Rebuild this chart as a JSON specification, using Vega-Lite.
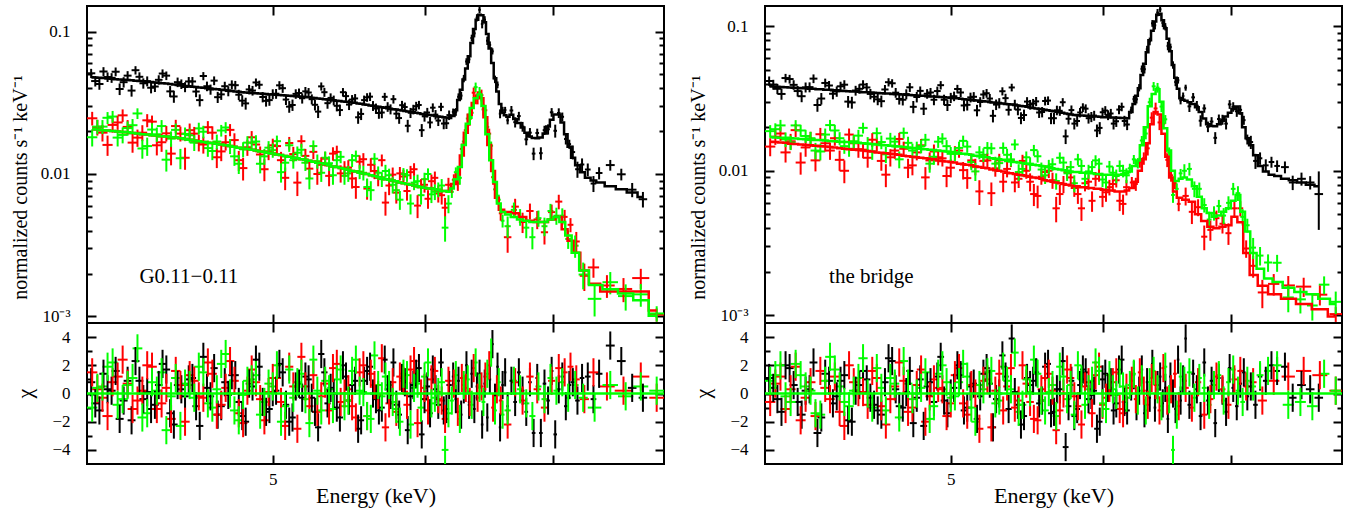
{
"$schema":"https://vega.github.io/schema/vega-lite/v6.json",
"background":"white",
"padding":{"left":9,"top":4,"right":5,"bottom":5},
"config":{"font":"Liberation Serif","view":{"stroke":"#000000","strokeWidth":2},
"axis":{"domain":false,"grid":false,"tickColor":"#000000","tickWidth":2,"labelColor":"#000000","labelFont":"Liberation Serif","labelFontSize":17,"titleFont":"Liberation Serif","titleFontSize":20,"titleFontWeight":"normal","titleColor":"#000000"}},
"datasets":{
"L":[
{"s":"k","e":4.02,"w":0.02,"m":0.0478,"y":0.0509,"d":0.0038,"c":0.8},
{"s":"k","e":4.06,"w":0.02,"m":0.0473,"y":0.0428,"d":0.0038,"c":-1.2},
{"s":"k","e":4.10,"w":0.02,"m":0.0468,"y":0.0479,"d":0.0037,"c":0.3},
{"s":"k","e":4.14,"w":0.02,"m":0.0463,"y":0.0522,"d":0.0037,"c":1.6},
{"s":"k","e":4.18,"w":0.02,"m":0.0459,"y":0.0441,"d":0.0037,"c":-0.5},
{"s":"k","e":4.22,"w":0.02,"m":0.0454,"y":0.0385,"d":0.0036,"c":-1.9},
{"s":"k","e":4.26,"w":0.02,"m":0.0449,"y":0.0481,"d":0.0036,"c":0.9},
{"s":"k","e":4.30,"w":0.02,"m":0.0444,"y":0.0448,"d":0.0036,"c":0.1},
{"s":"k","e":4.34,"w":0.02,"m":0.0439,"y":0.0411,"d":0.0035,"c":-0.8},
{"s":"k","e":4.38,"w":0.02,"m":0.0434,"y":0.0507,"d":0.0035,"c":2.1},
{"s":"k","e":4.42,"w":0.02,"m":0.0428,"y":0.0380,"d":0.0034,"c":-1.4},
{"s":"k","e":4.46,"w":0.02,"m":0.0421,"y":0.0441,"d":0.0034,"c":0.6},
{"s":"k","e":4.50,"w":0.02,"m":0.0415,"y":0.0408,"d":0.0033,"c":-0.2},
{"s":"k","e":4.54,"w":0.02,"m":0.0410,"y":0.0446,"d":0.0033,"c":1.1},
{"s":"k","e":4.58,"w":0.02,"m":0.0405,"y":0.0330,"d":0.0032,"c":-2.3},
{"s":"k","e":4.62,"w":0.02,"m":0.0400,"y":0.0413,"d":0.0032,"c":0.4},
{"s":"k","e":4.66,"w":0.02,"m":0.0395,"y":0.0452,"d":0.0032,"c":1.8},
{"s":"k","e":4.70,"w":0.02,"m":0.0390,"y":0.0362,"d":0.0031,"c":-0.9},
{"s":"k","e":4.74,"w":0.02,"m":0.0385,"y":0.0382,"d":0.0031,"c":-0.1},
{"s":"k","e":4.78,"w":0.02,"m":0.0380,"y":0.0420,"d":0.0030,"c":1.3},
{"s":"k","e":4.82,"w":0.02,"m":0.0375,"y":0.0327,"d":0.0030,"c":-1.6},
{"s":"k","e":4.86,"w":0.02,"m":0.0371,"y":0.0392,"d":0.0030,"c":0.7},
{"s":"k","e":4.90,"w":0.02,"m":0.0368,"y":0.0439,"d":0.0029,"c":2.4},
{"s":"k","e":4.94,"w":0.02,"m":0.0365,"y":0.0347,"d":0.0029,"c":-0.6},
{"s":"k","e":4.98,"w":0.02,"m":0.0362,"y":0.0330,"d":0.0029,"c":-1.1},
{"s":"k","e":5.02,"w":0.02,"m":0.0360,"y":0.0366,"d":0.0029,"c":0.2},
{"s":"k","e":5.06,"w":0.02,"m":0.0357,"y":0.0400,"d":0.0029,"c":1.5},
{"s":"k","e":5.10,"w":0.02,"m":0.0354,"y":0.0297,"d":0.0028,"c":-2.0},
{"s":"k","e":5.14,"w":0.02,"m":0.0351,"y":0.0365,"d":0.0028,"c":0.5},
{"s":"k","e":5.18,"w":0.02,"m":0.0348,"y":0.0340,"d":0.0028,"c":-0.3},
{"s":"k","e":5.22,"w":0.02,"m":0.0345,"y":0.0373,"d":0.0028,"c":1.0},
{"s":"k","e":5.26,"w":0.02,"m":0.0341,"y":0.0306,"d":0.0027,"c":-1.3},
{"s":"k","e":5.30,"w":0.02,"m":0.0337,"y":0.0412,"d":0.0027,"c":2.8},
{"s":"k","e":5.34,"w":0.02,"m":0.0333,"y":0.0314,"d":0.0027,"c":-0.7},
{"s":"k","e":5.38,"w":0.02,"m":0.0329,"y":0.0329,"d":0.0026,"c":0.0},
{"s":"k","e":5.42,"w":0.02,"m":0.0325,"y":0.0281,"d":0.0026,"c":-1.7},
{"s":"k","e":5.46,"w":0.02,"m":0.0321,"y":0.0352,"d":0.0026,"c":1.2},
{"s":"k","e":5.50,"w":0.02,"m":0.0318,"y":0.0333,"d":0.0025,"c":0.6},
{"s":"k","e":5.54,"w":0.02,"m":0.0313,"y":0.0250,"d":0.0025,"c":-2.5},
{"s":"k","e":5.58,"w":0.02,"m":0.0308,"y":0.0330,"d":0.0025,"c":0.9},
{"s":"k","e":5.62,"w":0.02,"m":0.0303,"y":0.0349,"d":0.0024,"c":1.9},
{"s":"k","e":5.66,"w":0.02,"m":0.0298,"y":0.0288,"d":0.0024,"c":-0.4},
{"s":"k","e":5.70,"w":0.02,"m":0.0294,"y":0.0270,"d":0.0024,"c":-1.0},
{"s":"k","e":5.74,"w":0.02,"m":0.0289,"y":0.0296,"d":0.0023,"c":0.3},
{"s":"k","e":5.78,"w":0.02,"m":0.0285,"y":0.0335,"d":0.0023,"c":2.2},
{"s":"k","e":5.82,"w":0.02,"m":0.0281,"y":0.0247,"d":0.0022,"c":-1.5},
{"s":"k","e":5.86,"w":0.02,"m":0.0277,"y":0.0295,"d":0.0022,"c":0.8},
{"s":"k","e":5.90,"w":0.02,"m":0.0273,"y":0.0269,"d":0.0022,"c":-0.2},
{"s":"k","e":5.94,"w":0.02,"m":0.0269,"y":0.0299,"d":0.0022,"c":1.4},
{"s":"k","e":5.98,"w":0.02,"m":0.0264,"y":0.0203,"d":0.0021,"c":-2.9},
{"s":"k","e":6.02,"w":0.02,"m":0.0260,"y":0.0270,"d":0.0021,"c":0.5},
{"s":"k","e":6.06,"w":0.02,"m":0.0257,"y":0.0292,"d":0.0021,"c":1.7},
{"s":"k","e":6.10,"w":0.02,"m":0.0253,"y":0.0237,"d":0.0020,"c":-0.8},
{"s":"k","e":6.14,"w":0.02,"m":0.0250,"y":0.0226,"d":0.0020,"c":-1.2},
{"s":"k","e":6.18,"w":0.02,"m":0.0247,"y":0.0259,"d":0.0020,"c":0.6},
{"s":"k","e":4.04,"w":0.02,"m":0.0476,"y":0.0449,"d":0.0038,"c":-0.7},
{"s":"k","e":4.08,"w":0.02,"m":0.0471,"y":0.0524,"d":0.0038,"c":1.4},
{"s":"k","e":4.12,"w":0.02,"m":0.0466,"y":0.0473,"d":0.0037,"c":0.2},
{"s":"k","e":4.16,"w":0.02,"m":0.0461,"y":0.0395,"d":0.0037,"c":-1.8},
{"s":"k","e":4.20,"w":0.02,"m":0.0457,"y":0.0490,"d":0.0037,"c":0.9},
{"s":"k","e":4.24,"w":0.02,"m":0.0452,"y":0.0535,"d":0.0036,"c":2.3},
{"s":"k","e":4.28,"w":0.02,"m":0.0447,"y":0.0433,"d":0.0036,"c":-0.4},
{"s":"k","e":4.32,"w":0.02,"m":0.0442,"y":0.0403,"d":0.0035,"c":-1.1},
{"s":"k","e":4.36,"w":0.02,"m":0.0437,"y":0.0458,"d":0.0035,"c":0.6},
{"s":"k","e":4.40,"w":0.02,"m":0.0431,"y":0.0490,"d":0.0034,"c":1.7},
{"s":"k","e":4.44,"w":0.02,"m":0.0425,"y":0.0350,"d":0.0034,"c":-2.2},
{"s":"k","e":4.48,"w":0.02,"m":0.0418,"y":0.0428,"d":0.0033,"c":0.3},
{"s":"k","e":4.52,"w":0.02,"m":0.0413,"y":0.0446,"d":0.0033,"c":1.0},
{"s":"k","e":4.56,"w":0.02,"m":0.0408,"y":0.0379,"d":0.0033,"c":-0.9},
{"s":"k","e":4.60,"w":0.02,"m":0.0403,"y":0.0487,"d":0.0032,"c":2.6},
{"s":"k","e":4.64,"w":0.02,"m":0.0398,"y":0.0392,"d":0.0032,"c":-0.2},
{"s":"k","e":4.68,"w":0.02,"m":0.0393,"y":0.0346,"d":0.0031,"c":-1.5},
{"s":"k","e":4.72,"w":0.02,"m":0.0388,"y":0.0413,"d":0.0031,"c":0.8},
{"s":"k","e":4.76,"w":0.02,"m":0.0383,"y":0.0423,"d":0.0031,"c":1.3},
{"s":"k","e":4.80,"w":0.02,"m":0.0378,"y":0.0360,"d":0.0030,"c":-0.6},
{"s":"k","e":4.84,"w":0.02,"m":0.0373,"y":0.0313,"d":0.0030,"c":-2.0},
{"s":"k","e":4.88,"w":0.02,"m":0.0370,"y":0.0385,"d":0.0030,"c":0.5},
{"s":"k","e":4.92,"w":0.02,"m":0.0367,"y":0.0423,"d":0.0029,"c":1.9},
{"s":"k","e":4.96,"w":0.02,"m":0.0364,"y":0.0326,"d":0.0029,"c":-1.3},
{"s":"k","e":5.00,"w":0.02,"m":0.0361,"y":0.0364,"d":0.0029,"c":0.1},
{"s":"k","e":5.04,"w":0.02,"m":0.0359,"y":0.0419,"d":0.0029,"c":2.1},
{"s":"k","e":5.08,"w":0.02,"m":0.0356,"y":0.0333,"d":0.0028,"c":-0.8},
{"s":"k","e":5.12,"w":0.02,"m":0.0353,"y":0.0305,"d":0.0028,"c":-1.7},
{"s":"k","e":5.16,"w":0.02,"m":0.0350,"y":0.0370,"d":0.0028,"c":0.7},
{"s":"k","e":5.20,"w":0.02,"m":0.0347,"y":0.0380,"d":0.0028,"c":1.2},
{"s":"k","e":5.24,"w":0.02,"m":0.0343,"y":0.0335,"d":0.0027,"c":-0.3},
{"s":"k","e":5.28,"w":0.02,"m":0.0339,"y":0.0274,"d":0.0027,"c":-2.4},
{"s":"k","e":5.32,"w":0.02,"m":0.0335,"y":0.0375,"d":0.0027,"c":1.5},
{"s":"k","e":5.36,"w":0.02,"m":0.0331,"y":0.0342,"d":0.0026,"c":0.4},
{"s":"k","e":5.40,"w":0.02,"m":0.0327,"y":0.0301,"d":0.0026,"c":-1.0},
{"s":"k","e":5.44,"w":0.02,"m":0.0323,"y":0.0375,"d":0.0026,"c":2.0},
{"s":"k","e":5.48,"w":0.02,"m":0.0320,"y":0.0307,"d":0.0026,"c":-0.5},
{"s":"k","e":5.52,"w":0.02,"m":0.0316,"y":0.0339,"d":0.0025,"c":0.9},
{"s":"k","e":5.56,"w":0.02,"m":0.0311,"y":0.0264,"d":0.0025,"c":-1.9},
{"s":"k","e":5.60,"w":0.02,"m":0.0306,"y":0.0345,"d":0.0024,"c":1.6},
{"s":"k","e":5.64,"w":0.02,"m":0.0301,"y":0.0301,"d":0.0024,"c":0.0},
{"s":"k","e":5.68,"w":0.02,"m":0.0296,"y":0.0268,"d":0.0024,"c":-1.2},
{"s":"k","e":5.72,"w":0.02,"m":0.0292,"y":0.0348,"d":0.0023,"c":2.4},
{"s":"k","e":5.76,"w":0.02,"m":0.0287,"y":0.0285,"d":0.0023,"c":-0.1},
{"s":"k","e":5.80,"w":0.02,"m":0.0283,"y":0.0265,"d":0.0023,"c":-0.8},
{"s":"k","e":5.84,"w":0.02,"m":0.0279,"y":0.0304,"d":0.0022,"c":1.1},
{"s":"k","e":5.88,"w":0.02,"m":0.0275,"y":0.0218,"d":0.0022,"c":-2.6},
{"s":"k","e":5.92,"w":0.02,"m":0.0271,"y":0.0284,"d":0.0022,"c":0.6},
{"s":"k","e":5.96,"w":0.02,"m":0.0267,"y":0.0305,"d":0.0021,"c":1.8},
{"s":"k","e":6.00,"w":0.02,"m":0.0262,"y":0.0254,"d":0.0021,"c":-0.4},
{"s":"k","e":6.04,"w":0.02,"m":0.0259,"y":0.0230,"d":0.0021,"c":-1.4},
{"s":"k","e":6.08,"w":0.02,"m":0.0255,"y":0.0261,"d":0.0020,"c":0.3},
{"s":"k","e":6.12,"w":0.02,"m":0.0252,"y":0.0296,"d":0.0020,"c":2.2},
{"s":"k","e":6.16,"w":0.02,"m":0.0249,"y":0.0227,"d":0.0020,"c":-1.1},
{"s":"k","e":6.21,"w":0.01,"m":0.0255,"y":0.0273,"d":0.0015,"c":1.2},
{"s":"k","e":6.23,"w":0.01,"m":0.028,"y":0.0273,"d":0.0017,"c":-0.4},
{"s":"k","e":6.25,"w":0.01,"m":0.033,"y":0.0348,"d":0.0020,"c":0.9},
{"s":"k","e":6.27,"w":0.01,"m":0.039,"y":0.0355,"d":0.0023,"c":-1.5},
{"s":"k","e":6.29,"w":0.01,"m":0.046,"y":0.0468,"d":0.0028,"c":0.3},
{"s":"k","e":6.31,"w":0.01,"m":0.055,"y":0.0616,"d":0.0033,"c":2.0},
{"s":"k","e":6.33,"w":0.01,"m":0.067,"y":0.0638,"d":0.0040,"c":-0.8},
{"s":"k","e":6.35,"w":0.01,"m":0.083,"y":0.0900,"d":0.0050,"c":1.4},
{"s":"k","e":6.37,"w":0.01,"m":0.104,"y":0.0971,"d":0.0062,"c":-1.1},
{"s":"k","e":6.39,"w":0.01,"m":0.121,"y":0.125,"d":0.0073,"c":0.5},
{"s":"k","e":6.41,"w":0.01,"m":0.131,"y":0.142,"d":0.0079,"c":1.4},
{"s":"k","e":6.43,"w":0.01,"m":0.130,"y":0.113,"d":0.0078,"c":-2.2},
{"s":"k","e":6.45,"w":0.01,"m":0.116,"y":0.121,"d":0.0070,"c":0.7},
{"s":"k","e":6.47,"w":0.01,"m":0.096,"y":0.0862,"d":0.0058,"c":-1.7},
{"s":"k","e":6.49,"w":0.01,"m":0.076,"y":0.0806,"d":0.0046,"c":1.0},
{"s":"k","e":6.51,"w":0.01,"m":0.060,"y":0.0726,"d":0.0036,"c":3.5},
{"s":"k","e":6.53,"w":0.01,"m":0.047,"y":0.0462,"d":0.0028,"c":-0.3},
{"s":"k","e":6.55,"w":0.01,"m":0.038,"y":0.0423,"d":0.0023,"c":1.9},
{"s":"k","e":6.57,"w":0.01,"m":0.031,"y":0.0265,"d":0.0019,"c":-2.4},
{"s":"k","e":6.59,"w":0.01,"m":0.027,"y":0.0280,"d":0.0016,"c":0.6},
{"s":"k","e":6.61,"w":0.01,"m":0.0258,"y":0.0281,"d":0.0015,"c":1.5},
{"s":"k","e":6.63,"w":0.01,"m":0.0252,"y":0.0238,"d":0.0015,"c":-0.9},
{"s":"k","e":6.66,"w":0.015,"m":0.026,"y":0.0279,"d":0.0021,"c":0.9},
{"s":"k","e":6.69,"w":0.015,"m":0.0243,"y":0.0231,"d":0.0019,"c":-0.6},
{"s":"k","e":6.72,"w":0.015,"m":0.0228,"y":0.0255,"d":0.0018,"c":1.5},
{"s":"k","e":6.75,"w":0.015,"m":0.0212,"y":0.0215,"d":0.0017,"c":0.2},
{"s":"k","e":6.78,"w":0.015,"m":0.0195,"y":0.0175,"d":0.0016,"c":-1.3},
{"s":"k","e":6.81,"w":0.015,"m":0.0183,"y":0.0195,"d":0.0015,"c":0.8},
{"s":"k","e":6.84,"w":0.015,"m":0.0179,"y":0.0139,"d":0.0014,"c":-2.8},
{"s":"k","e":6.87,"w":0.015,"m":0.0178,"y":0.0194,"d":0.0014,"c":1.1},
{"s":"k","e":6.90,"w":0.015,"m":0.018,"y":0.0140,"d":0.0014,"c":-2.8},
{"s":"k","e":6.93,"w":0.015,"m":0.0192,"y":0.0203,"d":0.0015,"c":0.7},
{"s":"k","e":6.96,"w":0.015,"m":0.0215,"y":0.0206,"d":0.0017,"c":-0.5},
{"s":"k","e":6.99,"w":0.015,"m":0.0240,"y":0.0271,"d":0.0019,"c":1.6},
{"s":"k","e":7.02,"w":0.015,"m":0.0262,"y":0.0201,"d":0.0021,"c":-2.9},
{"s":"k","e":7.05,"w":0.015,"m":0.0262,"y":0.0268,"d":0.0021,"c":0.3},
{"s":"k","e":7.08,"w":0.015,"m":0.0230,"y":0.0252,"d":0.0018,"c":1.2},
{"s":"k","e":7.11,"w":0.015,"m":0.0190,"y":0.0176,"d":0.0015,"c":-0.9},
{"s":"k","e":7.14,"w":0.015,"m":0.0155,"y":0.0162,"d":0.0012,"c":0.6},
{"s":"k","e":7.17,"w":0.02,"m":0.0130,"y":0.01425,"d":0.0016,"c":0.8},
{"s":"k","e":7.21,"w":0.02,"m":0.0115,"y":0.0108,"d":0.0014,"c":-0.5},
{"s":"k","e":7.25,"w":0.02,"m":0.0103,"y":0.01166,"d":0.0012,"c":1.1},
{"s":"k","e":7.30,"w":0.025,"m":0.0094,"y":0.01075,"d":0.0011,"c":1.2},
{"s":"k","e":7.35,"w":0.025,"m":0.0090,"y":0.00857,"d":0.0011,"c":-0.4},
{"s":"k","e":7.40,"w":0.03,"m":0.0087,"y":0.01016,"d":0.0010,"c":1.4},
{"s":"k","e":7.50,"w":0.04,"m":0.0082,"y":0.01155,"d":0.0010,"c":3.4},
{"s":"k","e":7.60,"w":0.04,"m":0.0078,"y":0.00995,"d":0.00094,"c":2.3},
{"s":"k","e":7.70,"w":0.04,"m":0.0074,"y":0.00776,"d":0.00089,"c":0.4},
{"s":"k","e":7.80,"w":0.04,"m":0.0069,"y":0.00665,"d":0.00083,"c":-0.3},
{"s":"r","e":4.025,"w":0.025,"m":0.0206,"y":0.0246,"d":0.0027,"c":1.5},
{"s":"r","e":4.075,"w":0.025,"m":0.0203,"y":0.0195,"d":0.0026,"c":-0.3},
{"s":"r","e":4.125,"w":0.025,"m":0.0200,"y":0.0221,"d":0.0026,"c":0.8},
{"s":"r","e":4.175,"w":0.025,"m":0.0197,"y":0.0258,"d":0.0026,"c":2.4},
{"s":"r","e":4.225,"w":0.025,"m":0.0194,"y":0.0166,"d":0.0025,"c":-1.1},
{"s":"r","e":4.275,"w":0.025,"m":0.0190,"y":0.0195,"d":0.0025,"c":0.2},
{"s":"r","e":4.325,"w":0.025,"m":0.0187,"y":0.0233,"d":0.0024,"c":1.9},
{"s":"r","e":4.375,"w":0.025,"m":0.0184,"y":0.0167,"d":0.0024,"c":-0.7},
{"s":"r","e":4.425,"w":0.025,"m":0.0181,"y":0.0139,"d":0.0024,"c":-1.8},
{"s":"r","e":4.475,"w":0.025,"m":0.0178,"y":0.0192,"d":0.0023,"c":0.6},
{"s":"r","e":4.525,"w":0.025,"m":0.0174,"y":0.0203,"d":0.0023,"c":1.3},
{"s":"r","e":4.575,"w":0.025,"m":0.0170,"y":0.0166,"d":0.0022,"c":-0.2},
{"s":"r","e":4.625,"w":0.025,"m":0.0166,"y":0.0213,"d":0.0022,"c":2.2},
{"s":"r","e":4.675,"w":0.025,"m":0.0163,"y":0.0131,"d":0.0021,"c":-1.5},
{"s":"r","e":4.725,"w":0.025,"m":0.0159,"y":0.0167,"d":0.0021,"c":0.4},
{"s":"r","e":4.775,"w":0.025,"m":0.0155,"y":0.0173,"d":0.0020,"c":0.9},
{"s":"r","e":4.825,"w":0.025,"m":0.0151,"y":0.0110,"d":0.0020,"c":-2.1},
{"s":"r","e":4.875,"w":0.025,"m":0.0148,"y":0.0181,"d":0.0019,"c":1.7},
{"s":"r","e":4.925,"w":0.025,"m":0.0144,"y":0.0137,"d":0.0019,"c":-0.4},
{"s":"r","e":4.975,"w":0.025,"m":0.0141,"y":0.0143,"d":0.0018,"c":0.1},
{"s":"r","e":5.025,"w":0.025,"m":0.0137,"y":0.0157,"d":0.0018,"c":1.1},
{"s":"r","e":5.075,"w":0.025,"m":0.0134,"y":0.0094,"d":0.0017,"c":-2.3},
{"s":"r","e":5.125,"w":0.025,"m":0.0130,"y":0.0138,"d":0.0017,"c":0.5},
{"s":"r","e":5.175,"w":0.025,"m":0.0127,"y":0.0170,"d":0.0017,"c":2.6},
{"s":"r","e":5.225,"w":0.025,"m":0.0124,"y":0.0109,"d":0.0016,"c":-0.9},
{"s":"r","e":5.275,"w":0.025,"m":0.0120,"y":0.0100,"d":0.0016,"c":-1.3},
{"s":"r","e":5.325,"w":0.025,"m":0.0117,"y":0.0128,"d":0.0015,"c":0.7},
{"s":"r","e":5.375,"w":0.025,"m":0.0113,"y":0.0139,"d":0.0015,"c":1.8},
{"s":"r","e":5.425,"w":0.025,"m":0.0110,"y":0.0101,"d":0.0014,"c":-0.6},
{"s":"r","e":5.475,"w":0.025,"m":0.0107,"y":0.0111,"d":0.0014,"c":0.3},
{"s":"r","e":5.525,"w":0.025,"m":0.0104,"y":0.0081,"d":0.0014,"c":-1.7},
{"s":"r","e":5.575,"w":0.025,"m":0.0101,"y":0.0127,"d":0.0013,"c":2.0},
{"s":"r","e":5.625,"w":0.025,"m":0.0098,"y":0.0116,"d":0.0013,"c":1.4},
{"s":"r","e":5.675,"w":0.025,"m":0.0095,"y":0.0094,"d":0.0012,"c":-0.1},
{"s":"r","e":5.725,"w":0.025,"m":0.0092,"y":0.0063,"d":0.0012,"c":-2.4},
{"s":"r","e":5.775,"w":0.025,"m":0.0090,"y":0.0099,"d":0.0012,"c":0.8},
{"s":"r","e":5.825,"w":0.025,"m":0.0087,"y":0.0101,"d":0.0011,"c":1.2},
{"s":"r","e":5.875,"w":0.025,"m":0.0085,"y":0.0076,"d":0.0011,"c":-0.8},
{"s":"r","e":5.925,"w":0.025,"m":0.0083,"y":0.0108,"d":0.0011,"c":2.3},
{"s":"r","e":5.975,"w":0.025,"m":0.0081,"y":0.0081,"d":0.0011,"c":0.0},
{"s":"r","e":6.025,"w":0.025,"m":0.0079,"y":0.0067,"d":0.0010,"c":-1.2},
{"s":"r","e":6.075,"w":0.025,"m":0.0078,"y":0.0094,"d":0.0010,"c":1.6},
{"s":"r","e":6.125,"w":0.025,"m":0.0076,"y":0.0071,"d":0.0010,"c":-0.5},
{"s":"r","e":6.175,"w":0.025,"m":0.0075,"y":0.0084,"d":0.0010,"c":0.9},
{"s":"r","e":4.05,"w":0.025,"m":0.0205,"y":0.0213,"d":0.0027,"c":0.3},
{"s":"r","e":4.10,"w":0.025,"m":0.0202,"y":0.0160,"d":0.0026,"c":-1.6},
{"s":"r","e":4.15,"w":0.025,"m":0.0199,"y":0.0230,"d":0.0026,"c":1.2},
{"s":"r","e":4.20,"w":0.025,"m":0.0196,"y":0.0214,"d":0.0025,"c":0.7},
{"s":"r","e":4.25,"w":0.025,"m":0.0192,"y":0.0180,"d":0.0025,"c":-0.5},
{"s":"r","e":4.30,"w":0.025,"m":0.0189,"y":0.0238,"d":0.0025,"c":2.0},
{"s":"r","e":4.35,"w":0.025,"m":0.0186,"y":0.0159,"d":0.0024,"c":-1.1},
{"s":"r","e":4.40,"w":0.025,"m":0.0183,"y":0.0193,"d":0.0024,"c":0.4},
{"s":"r","e":4.45,"w":0.025,"m":0.0180,"y":0.0217,"d":0.0023,"c":1.6},
{"s":"r","e":4.50,"w":0.025,"m":0.0176,"y":0.0130,"d":0.0023,"c":-2.0},
{"s":"r","e":4.55,"w":0.025,"m":0.0172,"y":0.0192,"d":0.0022,"c":0.9},
{"s":"r","e":4.60,"w":0.025,"m":0.0168,"y":0.0161,"d":0.0022,"c":-0.3},
{"s":"r","e":4.65,"w":0.025,"m":0.0165,"y":0.0195,"d":0.0021,"c":1.4},
{"s":"r","e":4.70,"w":0.025,"m":0.0161,"y":0.0144,"d":0.0021,"c":-0.8},
{"s":"r","e":4.75,"w":0.025,"m":0.0157,"y":0.0204,"d":0.0020,"c":2.3},
{"s":"r","e":4.80,"w":0.025,"m":0.0153,"y":0.0125,"d":0.0020,"c":-1.4},
{"s":"r","e":4.85,"w":0.025,"m":0.0150,"y":0.0154,"d":0.0020,"c":0.2},
{"s":"r","e":4.90,"w":0.025,"m":0.0146,"y":0.0161,"d":0.0019,"c":0.8},
{"s":"r","e":4.95,"w":0.025,"m":0.0143,"y":0.0108,"d":0.0019,"c":-1.9},
{"s":"r","e":5.00,"w":0.025,"m":0.0139,"y":0.0159,"d":0.0018,"c":1.1},
{"s":"r","e":5.05,"w":0.025,"m":0.0136,"y":0.0125,"d":0.0018,"c":-0.6},
{"s":"r","e":5.10,"w":0.025,"m":0.0132,"y":0.0165,"d":0.0017,"c":1.9},
{"s":"r","e":5.15,"w":0.025,"m":0.0129,"y":0.0087,"d":0.0017,"c":-2.5},
{"s":"r","e":5.20,"w":0.025,"m":0.0126,"y":0.0134,"d":0.0016,"c":0.5},
{"s":"r","e":5.25,"w":0.025,"m":0.0122,"y":0.0143,"d":0.0016,"c":1.3},
{"s":"r","e":5.30,"w":0.025,"m":0.0119,"y":0.0116,"d":0.0015,"c":-0.2},
{"s":"r","e":5.35,"w":0.025,"m":0.0115,"y":0.0097,"d":0.0015,"c":-1.2},
{"s":"r","e":5.40,"w":0.025,"m":0.0112,"y":0.0143,"d":0.0015,"c":2.1},
{"s":"r","e":5.45,"w":0.025,"m":0.0109,"y":0.0109,"d":0.0014,"c":0.0},
{"s":"r","e":5.50,"w":0.025,"m":0.0105,"y":0.0093,"d":0.0014,"c":-0.9},
{"s":"r","e":5.55,"w":0.025,"m":0.0102,"y":0.0122,"d":0.0013,"c":1.5},
{"s":"r","e":5.60,"w":0.025,"m":0.0100,"y":0.0079,"d":0.0013,"c":-1.6},
{"s":"r","e":5.65,"w":0.025,"m":0.0097,"y":0.0105,"d":0.0013,"c":0.6},
{"s":"r","e":5.70,"w":0.025,"m":0.0094,"y":0.0125,"d":0.0012,"c":2.5},
{"s":"r","e":5.75,"w":0.025,"m":0.0091,"y":0.0083,"d":0.0012,"c":-0.7},
{"s":"r","e":5.80,"w":0.025,"m":0.0089,"y":0.0074,"d":0.0012,"c":-1.3},
{"s":"r","e":5.85,"w":0.025,"m":0.0086,"y":0.0096,"d":0.0011,"c":0.9},
{"s":"r","e":5.90,"w":0.025,"m":0.0084,"y":0.0103,"d":0.0011,"c":1.7},
{"s":"r","e":5.95,"w":0.025,"m":0.0082,"y":0.0060,"d":0.0011,"c":-2.1},
{"s":"r","e":6.00,"w":0.025,"m":0.0080,"y":0.0084,"d":0.0010,"c":0.4},
{"s":"r","e":6.05,"w":0.025,"m":0.0079,"y":0.0089,"d":0.0010,"c":1.0},
{"s":"r","e":6.10,"w":0.025,"m":0.0077,"y":0.0073,"d":0.0010,"c":-0.4},
{"s":"r","e":6.15,"w":0.025,"m":0.0076,"y":0.0058,"d":0.0010,"c":-1.8},
{"s":"r","e":6.215,"w":0.015,"m":0.0085,"y":0.0091,"d":0.00085,"c":0.7},
{"s":"r","e":6.245,"w":0.015,"m":0.0099,"y":0.0086,"d":0.00099,"c":-1.3},
{"s":"r","e":6.275,"w":0.015,"m":0.0135,"y":0.0150,"d":0.00135,"c":1.1},
{"s":"r","e":6.305,"w":0.015,"m":0.0195,"y":0.0203,"d":0.00195,"c":0.4},
{"s":"r","e":6.335,"w":0.015,"m":0.0260,"y":0.0244,"d":0.0026,"c":-0.6},
{"s":"r","e":6.365,"w":0.015,"m":0.0315,"y":0.0372,"d":0.0032,"c":1.8},
{"s":"r","e":6.395,"w":0.015,"m":0.0355,"y":0.0344,"d":0.0036,"c":-0.3},
{"s":"r","e":6.425,"w":0.015,"m":0.0340,"y":0.0357,"d":0.0034,"c":0.5},
{"s":"r","e":6.455,"w":0.015,"m":0.0250,"y":0.0280,"d":0.0025,"c":1.2},
{"s":"r","e":6.485,"w":0.015,"m":0.0160,"y":0.0192,"d":0.0016,"c":2.0},
{"s":"r","e":6.515,"w":0.015,"m":0.0105,"y":0.0095,"d":0.0011,"c":-1.0},
{"s":"r","e":6.545,"w":0.015,"m":0.0068,"y":0.0070,"d":0.0007,"c":0.3},
{"s":"r","e":6.575,"w":0.015,"m":0.0056,"y":0.0053,"d":0.0006,"c":-0.5},
{"s":"r","e":6.63,"w":0.03,"m":0.0054,"y":0.0036,"d":0.0008,"c":-2.2},
{"s":"r","e":6.69,"w":0.03,"m":0.0053,"y":0.0059,"d":0.0008,"c":0.8},
{"s":"r","e":6.75,"w":0.03,"m":0.0050,"y":0.0046,"d":0.00075,"c":-0.5},
{"s":"r","e":6.81,"w":0.03,"m":0.0047,"y":0.0055,"d":0.0007,"c":1.2},
{"s":"r","e":6.87,"w":0.03,"m":0.0046,"y":0.0048,"d":0.0007,"c":0.3},
{"s":"r","e":6.93,"w":0.03,"m":0.0046,"y":0.0039,"d":0.0007,"c":-1.0},
{"s":"r","e":6.99,"w":0.03,"m":0.0048,"y":0.0054,"d":0.0007,"c":0.9},
{"s":"r","e":7.05,"w":0.03,"m":0.0050,"y":0.0064,"d":0.00075,"c":1.8},
{"s":"r","e":7.10,"w":0.025,"m":0.0041,"y":0.0050,"d":0.0006,"c":1.5},
{"s":"r","e":7.15,"w":0.025,"m":0.0034,"y":0.0044,"d":0.0005,"c":1.9},
{"s":"r","e":7.20,"w":0.03,"m":0.0028,"y":0.00336,"d":0.00056,"c":1.0},
{"s":"r","e":7.27,"w":0.04,"m":0.0021,"y":0.00193,"d":0.00042,"c":-0.4},
{"s":"r","e":7.35,"w":0.05,"m":0.0017,"y":0.00221,"d":0.00034,"c":1.5},
{"s":"r","e":7.47,"w":0.07,"m":0.0015,"y":0.00165,"d":0.0003,"c":0.5},
{"s":"r","e":7.62,"w":0.08,"m":0.0015,"y":0.00156,"d":0.0003,"c":0.2},
{"s":"r","e":7.78,"w":0.08,"m":0.0015,"y":0.00186,"d":0.0003,"c":1.2},
{"s":"r","e":7.93,"w":0.07,"m":0.0011,"y":0.00103,"d":0.00011,"c":-0.3},
{"s":"g","e":4.05,"w":0.025,"m":0.0205,"y":0.0215,"d":0.0025,"c":0.4},
{"s":"g","e":4.10,"w":0.025,"m":0.0202,"y":0.0248,"d":0.0024,"c":1.9},
{"s":"g","e":4.15,"w":0.025,"m":0.0199,"y":0.0180,"d":0.0024,"c":-0.8},
{"s":"g","e":4.20,"w":0.025,"m":0.0196,"y":0.0210,"d":0.0024,"c":0.6},
{"s":"g","e":4.25,"w":0.025,"m":0.0192,"y":0.0266,"d":0.0023,"c":3.2},
{"s":"g","e":4.30,"w":0.025,"m":0.0189,"y":0.0157,"d":0.0023,"c":-1.4},
{"s":"g","e":4.35,"w":0.025,"m":0.0186,"y":0.0190,"d":0.0022,"c":0.2},
{"s":"g","e":4.40,"w":0.025,"m":0.0183,"y":0.0126,"d":0.0022,"c":-2.6},
{"s":"g","e":4.45,"w":0.025,"m":0.0180,"y":0.0204,"d":0.0022,"c":1.1},
{"s":"g","e":4.50,"w":0.025,"m":0.0176,"y":0.0191,"d":0.0021,"c":0.7},
{"s":"g","e":4.55,"w":0.025,"m":0.0172,"y":0.0166,"d":0.0021,"c":-0.3},
{"s":"g","e":4.60,"w":0.025,"m":0.0168,"y":0.0198,"d":0.0020,"c":1.5},
{"s":"g","e":4.65,"w":0.025,"m":0.0165,"y":0.0145,"d":0.0020,"c":-1.0},
{"s":"g","e":4.70,"w":0.025,"m":0.0161,"y":0.0202,"d":0.0019,"c":2.1},
{"s":"g","e":4.75,"w":0.025,"m":0.0157,"y":0.0157,"d":0.0019,"c":0.0},
{"s":"g","e":4.80,"w":0.025,"m":0.0153,"y":0.0118,"d":0.0018,"c":-1.9},
{"s":"g","e":4.85,"w":0.025,"m":0.0150,"y":0.0166,"d":0.0018,"c":0.9},
{"s":"g","e":4.90,"w":0.025,"m":0.0146,"y":0.0169,"d":0.0018,"c":1.3},
{"s":"g","e":4.95,"w":0.025,"m":0.0143,"y":0.0133,"d":0.0017,"c":-0.6},
{"s":"g","e":5.00,"w":0.025,"m":0.0139,"y":0.0147,"d":0.0017,"c":0.5},
{"s":"g","e":5.05,"w":0.025,"m":0.0136,"y":0.0103,"d":0.0016,"c":-2.0},
{"s":"g","e":5.10,"w":0.025,"m":0.0132,"y":0.0159,"d":0.0016,"c":1.7},
{"s":"g","e":5.15,"w":0.025,"m":0.0129,"y":0.0141,"d":0.0015,"c":0.8},
{"s":"g","e":5.20,"w":0.025,"m":0.0126,"y":0.0120,"d":0.0015,"c":-0.4},
{"s":"g","e":5.25,"w":0.025,"m":0.0122,"y":0.0157,"d":0.0015,"c":2.4},
{"s":"g","e":5.30,"w":0.025,"m":0.0119,"y":0.0102,"d":0.0014,"c":-1.2},
{"s":"g","e":5.35,"w":0.025,"m":0.0115,"y":0.0119,"d":0.0014,"c":0.3},
{"s":"g","e":5.40,"w":0.025,"m":0.0112,"y":0.0125,"d":0.0013,"c":1.0},
{"s":"g","e":5.45,"w":0.025,"m":0.0109,"y":0.0097,"d":0.0013,"c":-0.9},
{"s":"g","e":5.50,"w":0.025,"m":0.0105,"y":0.0125,"d":0.0013,"c":1.6},
{"s":"g","e":5.55,"w":0.025,"m":0.0102,"y":0.0104,"d":0.0012,"c":0.2},
{"s":"g","e":5.60,"w":0.025,"m":0.0100,"y":0.0081,"d":0.0012,"c":-1.6},
{"s":"g","e":5.65,"w":0.025,"m":0.0097,"y":0.0128,"d":0.0012,"c":2.7},
{"s":"g","e":5.70,"w":0.025,"m":0.0094,"y":0.0092,"d":0.0011,"c":-0.2},
{"s":"g","e":5.75,"w":0.025,"m":0.0091,"y":0.0098,"d":0.0011,"c":0.6},
{"s":"g","e":5.80,"w":0.025,"m":0.0089,"y":0.0077,"d":0.0011,"c":-1.1},
{"s":"g","e":5.85,"w":0.025,"m":0.0086,"y":0.0100,"d":0.0010,"c":1.4},
{"s":"g","e":5.90,"w":0.025,"m":0.0084,"y":0.0062,"d":0.0010,"c":-2.2},
{"s":"g","e":5.95,"w":0.025,"m":0.0082,"y":0.0089,"d":0.0010,"c":0.7},
{"s":"g","e":6.00,"w":0.025,"m":0.0080,"y":0.0092,"d":0.0010,"c":1.2},
{"s":"g","e":6.05,"w":0.025,"m":0.0079,"y":0.0072,"d":0.00095,"c":-0.7},
{"s":"g","e":6.10,"w":0.025,"m":0.0077,"y":0.0078,"d":0.00092,"c":0.1},
{"s":"g","e":6.15,"w":0.025,"m":0.0076,"y":0.0042,"d":0.00085,"c":-4.0},
{"s":"g","e":4.025,"w":0.025,"m":0.0206,"y":0.0181,"d":0.0025,"c":-1.0},
{"s":"g","e":4.075,"w":0.025,"m":0.0203,"y":0.0215,"d":0.0024,"c":0.5},
{"s":"g","e":4.125,"w":0.025,"m":0.0200,"y":0.0253,"d":0.0024,"c":2.2},
{"s":"g","e":4.175,"w":0.025,"m":0.0197,"y":0.0188,"d":0.0024,"c":-0.4},
{"s":"g","e":4.225,"w":0.025,"m":0.0194,"y":0.0220,"d":0.0023,"c":1.1},
{"s":"g","e":4.275,"w":0.025,"m":0.0190,"y":0.0151,"d":0.0023,"c":-1.7},
{"s":"g","e":4.325,"w":0.025,"m":0.0187,"y":0.0205,"d":0.0022,"c":0.8},
{"s":"g","e":4.375,"w":0.025,"m":0.0184,"y":0.0217,"d":0.0022,"c":1.5},
{"s":"g","e":4.425,"w":0.025,"m":0.0181,"y":0.0177,"d":0.0022,"c":-0.2},
{"s":"g","e":4.475,"w":0.025,"m":0.0178,"y":0.0129,"d":0.0021,"c":-2.3},
{"s":"g","e":4.525,"w":0.025,"m":0.0174,"y":0.0187,"d":0.0021,"c":0.6},
{"s":"g","e":4.575,"w":0.025,"m":0.0170,"y":0.0209,"d":0.0020,"c":1.9},
{"s":"g","e":4.625,"w":0.025,"m":0.0166,"y":0.0152,"d":0.0020,"c":-0.7},
{"s":"g","e":4.675,"w":0.025,"m":0.0163,"y":0.0169,"d":0.0020,"c":0.3},
{"s":"g","e":4.725,"w":0.025,"m":0.0159,"y":0.0212,"d":0.0019,"c":2.8},
{"s":"g","e":4.775,"w":0.025,"m":0.0155,"y":0.0133,"d":0.0019,"c":-1.2},
{"s":"g","e":4.825,"w":0.025,"m":0.0151,"y":0.0149,"d":0.0018,"c":-0.1},
{"s":"g","e":4.875,"w":0.025,"m":0.0148,"y":0.0166,"d":0.0018,"c":1.0},
{"s":"g","e":4.925,"w":0.025,"m":0.0144,"y":0.0118,"d":0.0017,"c":-1.5},
{"s":"g","e":4.975,"w":0.025,"m":0.0141,"y":0.0153,"d":0.0017,"c":0.7},
{"s":"g","e":5.025,"w":0.025,"m":0.0137,"y":0.0170,"d":0.0016,"c":2.0},
{"s":"g","e":5.075,"w":0.025,"m":0.0134,"y":0.0120,"d":0.0016,"c":-0.9},
{"s":"g","e":5.125,"w":0.025,"m":0.0130,"y":0.0125,"d":0.0016,"c":-0.3},
{"s":"g","e":5.175,"w":0.025,"m":0.0127,"y":0.0148,"d":0.0015,"c":1.4},
{"s":"g","e":5.225,"w":0.025,"m":0.0124,"y":0.0093,"d":0.0015,"c":-2.1},
{"s":"g","e":5.275,"w":0.025,"m":0.0120,"y":0.0123,"d":0.0014,"c":0.2},
{"s":"g","e":5.325,"w":0.025,"m":0.0117,"y":0.0130,"d":0.0014,"c":0.9},
{"s":"g","e":5.375,"w":0.025,"m":0.0113,"y":0.0098,"d":0.0014,"c":-1.1},
{"s":"g","e":5.425,"w":0.025,"m":0.0110,"y":0.0132,"d":0.0013,"c":1.7},
{"s":"g","e":5.475,"w":0.025,"m":0.0107,"y":0.0101,"d":0.0013,"c":-0.5},
{"s":"g","e":5.525,"w":0.025,"m":0.0104,"y":0.0134,"d":0.0012,"c":2.4},
{"s":"g","e":5.575,"w":0.025,"m":0.0101,"y":0.0102,"d":0.0012,"c":0.1},
{"s":"g","e":5.625,"w":0.025,"m":0.0098,"y":0.0077,"d":0.0012,"c":-1.8},
{"s":"g","e":5.675,"w":0.025,"m":0.0095,"y":0.0102,"d":0.0011,"c":0.6},
{"s":"g","e":5.725,"w":0.025,"m":0.0092,"y":0.0105,"d":0.0011,"c":1.2},
{"s":"g","e":5.775,"w":0.025,"m":0.0090,"y":0.0084,"d":0.0011,"c":-0.6},
{"s":"g","e":5.825,"w":0.025,"m":0.0087,"y":0.0066,"d":0.0010,"c":-2.0},
{"s":"g","e":5.875,"w":0.025,"m":0.0085,"y":0.0098,"d":0.0010,"c":1.3},
{"s":"g","e":5.925,"w":0.025,"m":0.0083,"y":0.0087,"d":0.0010,"c":0.4},
{"s":"g","e":5.975,"w":0.025,"m":0.0081,"y":0.0071,"d":0.0010,"c":-1.0},
{"s":"g","e":6.025,"w":0.025,"m":0.0079,"y":0.0100,"d":0.00095,"c":2.2},
{"s":"g","e":6.075,"w":0.025,"m":0.0078,"y":0.0075,"d":0.00094,"c":-0.3},
{"s":"g","e":6.125,"w":0.025,"m":0.0076,"y":0.0083,"d":0.00091,"c":0.8},
{"s":"g","e":6.175,"w":0.025,"m":0.0075,"y":0.0062,"d":0.0009,"c":-1.4},
{"s":"g","e":6.20,"w":0.015,"m":0.0079,"y":0.0075,"d":0.00071,"c":-0.5},
{"s":"g","e":6.23,"w":0.015,"m":0.0092,"y":0.0103,"d":0.00083,"c":1.3},
{"s":"g","e":6.26,"w":0.015,"m":0.0112,"y":0.0094,"d":0.0010,"c":-1.8},
{"s":"g","e":6.29,"w":0.015,"m":0.0160,"y":0.0169,"d":0.0014,"c":0.6},
{"s":"g","e":6.32,"w":0.015,"m":0.0225,"y":0.0245,"d":0.0020,"c":1.0},
{"s":"g","e":6.35,"w":0.015,"m":0.0290,"y":0.0269,"d":0.0026,"c":-0.8},
{"s":"g","e":6.38,"w":0.015,"m":0.0340,"y":0.0407,"d":0.0031,"c":2.2},
{"s":"g","e":6.41,"w":0.015,"m":0.0362,"y":0.0375,"d":0.0033,"c":0.4},
{"s":"g","e":6.44,"w":0.015,"m":0.0300,"y":0.0284,"d":0.0027,"c":-0.6},
{"s":"g","e":6.47,"w":0.015,"m":0.0190,"y":0.0214,"d":0.0017,"c":1.4},
{"s":"g","e":6.50,"w":0.015,"m":0.0125,"y":0.0158,"d":0.0011,"c":2.9},
{"s":"g","e":6.53,"w":0.015,"m":0.0088,"y":0.0078,"d":0.0008,"c":-1.2},
{"s":"g","e":6.56,"w":0.015,"m":0.0062,"y":0.0066,"d":0.00056,"c":0.8},
{"s":"g","e":6.59,"w":0.015,"m":0.0054,"y":0.0047,"d":0.00049,"c":-1.5},
{"s":"g","e":6.63,"w":0.025,"m":0.0052,"y":0.0043,"d":0.00073,"c":-1.2},
{"s":"g","e":6.68,"w":0.025,"m":0.0050,"y":0.0056,"d":0.0007,"c":0.9},
{"s":"g","e":6.73,"w":0.025,"m":0.0048,"y":0.0050,"d":0.00067,"c":0.3},
{"s":"g","e":6.78,"w":0.025,"m":0.0047,"y":0.0042,"d":0.00066,"c":-0.7},
{"s":"g","e":6.83,"w":0.025,"m":0.0046,"y":0.0036,"d":0.00064,"c":-1.6},
{"s":"g","e":6.88,"w":0.025,"m":0.0046,"y":0.0049,"d":0.00064,"c":0.5},
{"s":"g","e":6.93,"w":0.025,"m":0.0046,"y":0.0043,"d":0.00064,"c":-0.4},
{"s":"g","e":6.98,"w":0.025,"m":0.0048,"y":0.0055,"d":0.00067,"c":1.1},
{"s":"g","e":7.03,"w":0.025,"m":0.0050,"y":0.0051,"d":0.0007,"c":0.2},
{"s":"g","e":7.08,"w":0.025,"m":0.0046,"y":0.0051,"d":0.00064,"c":0.8},
{"s":"g","e":7.13,"w":0.025,"m":0.0037,"y":0.0035,"d":0.00052,"c":-0.3},
{"s":"g","e":7.19,"w":0.03,"m":0.0028,"y":0.00314,"d":0.00056,"c":0.6},
{"s":"g","e":7.26,"w":0.04,"m":0.0021,"y":0.00197,"d":0.00042,"c":-0.3},
{"s":"g","e":7.36,"w":0.06,"m":0.00166,"y":0.00133,"d":0.00033,"c":-1.0},
{"s":"g","e":7.50,"w":0.07,"m":0.00155,"y":0.00174,"d":0.00031,"c":0.6},
{"s":"g","e":7.64,"w":0.07,"m":0.00145,"y":0.00139,"d":0.00029,"c":-0.2},
{"s":"g","e":7.78,"w":0.07,"m":0.0013,"y":0.00143,"d":0.00026,"c":0.5},
{"s":"g","e":7.93,"w":0.07,"m":0.00101,"y":0.00105,"d":0.00013,"c":0.2}
],
"R":[
{"s":"k","e":4.02,"w":0.02,"m":0.0384,"y":0.0418,"d":0.0031,"c":1.1},
{"s":"k","e":4.06,"w":0.02,"m":0.0381,"y":0.0369,"d":0.0030,"c":-0.4},
{"s":"k","e":4.10,"w":0.02,"m":0.0378,"y":0.0438,"d":0.0030,"c":2.0},
{"s":"k","e":4.14,"w":0.02,"m":0.0375,"y":0.0393,"d":0.0030,"c":0.6},
{"s":"k","e":4.18,"w":0.02,"m":0.0373,"y":0.0328,"d":0.0030,"c":-1.5},
{"s":"k","e":4.22,"w":0.02,"m":0.0370,"y":0.0379,"d":0.0030,"c":0.3},
{"s":"k","e":4.26,"w":0.02,"m":0.0367,"y":0.0285,"d":0.0029,"c":-2.8},
{"s":"k","e":4.30,"w":0.02,"m":0.0364,"y":0.0405,"d":0.0029,"c":1.4},
{"s":"k","e":4.34,"w":0.02,"m":0.0361,"y":0.0341,"d":0.0029,"c":-0.7},
{"s":"k","e":4.38,"w":0.02,"m":0.0358,"y":0.0384,"d":0.0029,"c":0.9},
{"s":"k","e":4.42,"w":0.02,"m":0.0355,"y":0.0301,"d":0.0028,"c":-1.9},
{"s":"k","e":4.46,"w":0.02,"m":0.0353,"y":0.0359,"d":0.0028,"c":0.2},
{"s":"k","e":4.50,"w":0.02,"m":0.0350,"y":0.0395,"d":0.0028,"c":1.6},
{"s":"k","e":4.54,"w":0.02,"m":0.0348,"y":0.0340,"d":0.0028,"c":-0.3},
{"s":"k","e":4.58,"w":0.02,"m":0.0345,"y":0.0312,"d":0.0028,"c":-1.2},
{"s":"k","e":4.62,"w":0.02,"m":0.0343,"y":0.0365,"d":0.0027,"c":0.8},
{"s":"k","e":4.66,"w":0.02,"m":0.0340,"y":0.0403,"d":0.0027,"c":2.3},
{"s":"k","e":4.70,"w":0.02,"m":0.0338,"y":0.0314,"d":0.0027,"c":-0.9},
{"s":"k","e":4.74,"w":0.02,"m":0.0336,"y":0.0339,"d":0.0027,"c":0.1},
{"s":"k","e":4.78,"w":0.02,"m":0.0333,"y":0.0277,"d":0.0027,"c":-2.1},
{"s":"k","e":4.82,"w":0.02,"m":0.0331,"y":0.0357,"d":0.0026,"c":1.0},
{"s":"k","e":4.86,"w":0.02,"m":0.0328,"y":0.0341,"d":0.0026,"c":0.5},
{"s":"k","e":4.90,"w":0.02,"m":0.0326,"y":0.0310,"d":0.0026,"c":-0.6},
{"s":"k","e":4.94,"w":0.02,"m":0.0324,"y":0.0391,"d":0.0026,"c":2.6},
{"s":"k","e":4.98,"w":0.02,"m":0.0321,"y":0.0285,"d":0.0026,"c":-1.4},
{"s":"k","e":5.02,"w":0.02,"m":0.0318,"y":0.0328,"d":0.0025,"c":0.4},
{"s":"k","e":5.06,"w":0.02,"m":0.0315,"y":0.0348,"d":0.0025,"c":1.3},
{"s":"k","e":5.10,"w":0.02,"m":0.0311,"y":0.0286,"d":0.0025,"c":-1.0},
{"s":"k","e":5.14,"w":0.02,"m":0.0308,"y":0.0325,"d":0.0025,"c":0.7},
{"s":"k","e":5.18,"w":0.02,"m":0.0304,"y":0.0299,"d":0.0024,"c":-0.2},
{"s":"k","e":5.22,"w":0.02,"m":0.0301,"y":0.0344,"d":0.0024,"c":1.8},
{"s":"k","e":5.26,"w":0.02,"m":0.0297,"y":0.0240,"d":0.0024,"c":-2.4},
{"s":"k","e":5.30,"w":0.02,"m":0.0294,"y":0.0294,"d":0.0024,"c":0.0},
{"s":"k","e":5.34,"w":0.02,"m":0.0290,"y":0.0318,"d":0.0023,"c":1.2},
{"s":"k","e":5.38,"w":0.02,"m":0.0287,"y":0.0377,"d":0.0023,"c":3.9},
{"s":"k","e":5.42,"w":0.02,"m":0.0283,"y":0.0265,"d":0.0023,"c":-0.8},
{"s":"k","e":5.46,"w":0.02,"m":0.0279,"y":0.0243,"d":0.0022,"c":-1.6},
{"s":"k","e":5.50,"w":0.02,"m":0.0274,"y":0.0287,"d":0.0022,"c":0.6},
{"s":"k","e":5.54,"w":0.02,"m":0.0270,"y":0.0302,"d":0.0022,"c":1.5},
{"s":"k","e":5.58,"w":0.02,"m":0.0266,"y":0.0255,"d":0.0021,"c":-0.5},
{"s":"k","e":5.62,"w":0.02,"m":0.0262,"y":0.0306,"d":0.0021,"c":2.1},
{"s":"k","e":5.66,"w":0.02,"m":0.0258,"y":0.0231,"d":0.0021,"c":-1.3},
{"s":"k","e":5.70,"w":0.02,"m":0.0254,"y":0.0260,"d":0.0020,"c":0.3},
{"s":"k","e":5.74,"w":0.02,"m":0.0249,"y":0.0173,"d":0.0020,"c":-3.8},
{"s":"k","e":5.78,"w":0.02,"m":0.0245,"y":0.0263,"d":0.0020,"c":0.9},
{"s":"k","e":5.82,"w":0.02,"m":0.0242,"y":0.0221,"d":0.0019,"c":-1.1},
{"s":"k","e":5.86,"w":0.02,"m":0.0241,"y":0.0274,"d":0.0019,"c":1.7},
{"s":"k","e":5.90,"w":0.02,"m":0.0239,"y":0.0231,"d":0.0019,"c":-0.4},
{"s":"k","e":5.94,"w":0.02,"m":0.0237,"y":0.0241,"d":0.0019,"c":0.2},
{"s":"k","e":5.98,"w":0.02,"m":0.0236,"y":0.0198,"d":0.0019,"c":-2.0},
{"s":"k","e":6.02,"w":0.02,"m":0.0235,"y":0.0261,"d":0.0019,"c":1.4},
{"s":"k","e":6.06,"w":0.02,"m":0.0234,"y":0.0249,"d":0.0019,"c":0.8},
{"s":"k","e":6.10,"w":0.02,"m":0.0233,"y":0.0220,"d":0.0019,"c":-0.7},
{"s":"k","e":6.14,"w":0.02,"m":0.0232,"y":0.0277,"d":0.0019,"c":2.4},
{"s":"k","e":6.18,"w":0.02,"m":0.0231,"y":0.0209,"d":0.0018,"c":-1.2},
{"s":"k","e":4.04,"w":0.02,"m":0.0383,"y":0.0395,"d":0.0031,"c":0.4},
{"s":"k","e":4.08,"w":0.02,"m":0.0380,"y":0.0340,"d":0.0030,"c":-1.3},
{"s":"k","e":4.12,"w":0.02,"m":0.0377,"y":0.0431,"d":0.0030,"c":1.8},
{"s":"k","e":4.16,"w":0.02,"m":0.0374,"y":0.0356,"d":0.0030,"c":-0.6},
{"s":"k","e":4.20,"w":0.02,"m":0.0372,"y":0.0378,"d":0.0030,"c":0.2},
{"s":"k","e":4.24,"w":0.02,"m":0.0369,"y":0.0434,"d":0.0030,"c":2.2},
{"s":"k","e":4.28,"w":0.02,"m":0.0366,"y":0.0316,"d":0.0029,"c":-1.7},
{"s":"k","e":4.32,"w":0.02,"m":0.0363,"y":0.0389,"d":0.0029,"c":0.9},
{"s":"k","e":4.36,"w":0.02,"m":0.0360,"y":0.0354,"d":0.0029,"c":-0.2},
{"s":"k","e":4.40,"w":0.02,"m":0.0357,"y":0.0394,"d":0.0029,"c":1.3},
{"s":"k","e":4.44,"w":0.02,"m":0.0354,"y":0.0297,"d":0.0028,"c":-2.0},
{"s":"k","e":4.48,"w":0.02,"m":0.0352,"y":0.0369,"d":0.0028,"c":0.6},
{"s":"k","e":4.52,"w":0.02,"m":0.0349,"y":0.0377,"d":0.0028,"c":1.0},
{"s":"k","e":4.56,"w":0.02,"m":0.0347,"y":0.0325,"d":0.0028,"c":-0.8},
{"s":"k","e":4.60,"w":0.02,"m":0.0344,"y":0.0303,"d":0.0028,"c":-1.5},
{"s":"k","e":4.64,"w":0.02,"m":0.0342,"y":0.0410,"d":0.0027,"c":2.5},
{"s":"k","e":4.68,"w":0.02,"m":0.0339,"y":0.0347,"d":0.0027,"c":0.3},
{"s":"k","e":4.72,"w":0.02,"m":0.0337,"y":0.0310,"d":0.0027,"c":-1.0},
{"s":"k","e":4.76,"w":0.02,"m":0.0335,"y":0.0378,"d":0.0027,"c":1.6},
{"s":"k","e":4.80,"w":0.02,"m":0.0332,"y":0.0324,"d":0.0027,"c":-0.3},
{"s":"k","e":4.84,"w":0.02,"m":0.0330,"y":0.0269,"d":0.0026,"c":-2.3},
{"s":"k","e":4.88,"w":0.02,"m":0.0327,"y":0.0348,"d":0.0026,"c":0.8},
{"s":"k","e":4.92,"w":0.02,"m":0.0325,"y":0.0356,"d":0.0026,"c":1.2},
{"s":"k","e":4.96,"w":0.02,"m":0.0323,"y":0.0310,"d":0.0026,"c":-0.5},
{"s":"k","e":5.00,"w":0.02,"m":0.0320,"y":0.0320,"d":0.0026,"c":0.0},
{"s":"k","e":5.04,"w":0.02,"m":0.0317,"y":0.0368,"d":0.0025,"c":2.0},
{"s":"k","e":5.08,"w":0.02,"m":0.0313,"y":0.0283,"d":0.0025,"c":-1.2},
{"s":"k","e":5.12,"w":0.02,"m":0.0310,"y":0.0322,"d":0.0025,"c":0.5},
{"s":"k","e":5.16,"w":0.02,"m":0.0306,"y":0.0262,"d":0.0024,"c":-1.8},
{"s":"k","e":5.20,"w":0.02,"m":0.0303,"y":0.0337,"d":0.0024,"c":1.4},
{"s":"k","e":5.24,"w":0.02,"m":0.0299,"y":0.0316,"d":0.0024,"c":0.7},
{"s":"k","e":5.28,"w":0.02,"m":0.0296,"y":0.0287,"d":0.0024,"c":-0.4},
{"s":"k","e":5.32,"w":0.02,"m":0.0292,"y":0.0355,"d":0.0023,"c":2.7},
{"s":"k","e":5.36,"w":0.02,"m":0.0289,"y":0.0264,"d":0.0023,"c":-1.1},
{"s":"k","e":5.40,"w":0.02,"m":0.0285,"y":0.0287,"d":0.0023,"c":0.1},
{"s":"k","e":5.44,"w":0.02,"m":0.0281,"y":0.0232,"d":0.0022,"c":-2.2},
{"s":"k","e":5.48,"w":0.02,"m":0.0277,"y":0.0301,"d":0.0022,"c":1.1},
{"s":"k","e":5.52,"w":0.02,"m":0.0272,"y":0.0292,"d":0.0022,"c":0.9},
{"s":"k","e":5.56,"w":0.02,"m":0.0268,"y":0.0253,"d":0.0021,"c":-0.7},
{"s":"k","e":5.60,"w":0.02,"m":0.0264,"y":0.0304,"d":0.0021,"c":1.9},
{"s":"k","e":5.64,"w":0.02,"m":0.0260,"y":0.0231,"d":0.0021,"c":-1.4},
{"s":"k","e":5.68,"w":0.02,"m":0.0256,"y":0.0262,"d":0.0020,"c":0.3},
{"s":"k","e":5.72,"w":0.02,"m":0.0252,"y":0.0298,"d":0.0020,"c":2.3},
{"s":"k","e":5.76,"w":0.02,"m":0.0247,"y":0.0229,"d":0.0020,"c":-0.9},
{"s":"k","e":5.80,"w":0.02,"m":0.0243,"y":0.0212,"d":0.0019,"c":-1.6},
{"s":"k","e":5.84,"w":0.02,"m":0.0241,"y":0.0253,"d":0.0019,"c":0.6},
{"s":"k","e":5.88,"w":0.02,"m":0.0240,"y":0.0269,"d":0.0019,"c":1.5},
{"s":"k","e":5.92,"w":0.02,"m":0.0238,"y":0.0236,"d":0.0019,"c":-0.1},
{"s":"k","e":5.96,"w":0.02,"m":0.0237,"y":0.0190,"d":0.0019,"c":-2.5},
{"s":"k","e":6.00,"w":0.02,"m":0.0235,"y":0.0254,"d":0.0019,"c":1.0},
{"s":"k","e":6.04,"w":0.02,"m":0.0235,"y":0.0243,"d":0.0019,"c":0.4},
{"s":"k","e":6.08,"w":0.02,"m":0.0234,"y":0.0212,"d":0.0019,"c":-1.2},
{"s":"k","e":6.12,"w":0.02,"m":0.0233,"y":0.0265,"d":0.0019,"c":1.7},
{"s":"k","e":6.16,"w":0.02,"m":0.0232,"y":0.0221,"d":0.0019,"c":-0.6},
{"s":"k","e":6.21,"w":0.01,"m":0.0255,"y":0.0263,"d":0.0015,"c":0.5},
{"s":"k","e":6.23,"w":0.01,"m":0.029,"y":0.0313,"d":0.0017,"c":1.3},
{"s":"k","e":6.25,"w":0.01,"m":0.033,"y":0.0312,"d":0.0020,"c":-0.9},
{"s":"k","e":6.27,"w":0.01,"m":0.0372,"y":0.0376,"d":0.0022,"c":0.2},
{"s":"k","e":6.29,"w":0.01,"m":0.046,"y":0.0507,"d":0.0028,"c":1.7},
{"s":"k","e":6.31,"w":0.01,"m":0.055,"y":0.0504,"d":0.0033,"c":-1.4},
{"s":"k","e":6.33,"w":0.01,"m":0.066,"y":0.0692,"d":0.0040,"c":0.8},
{"s":"k","e":6.35,"w":0.01,"m":0.080,"y":0.0786,"d":0.0048,"c":-0.3},
{"s":"k","e":6.37,"w":0.01,"m":0.093,"y":0.1047,"d":0.0056,"c":2.1},
{"s":"k","e":6.39,"w":0.01,"m":0.108,"y":0.1015,"d":0.0065,"c":-1.0},
{"s":"k","e":6.41,"w":0.01,"m":0.120,"y":0.1243,"d":0.0072,"c":0.6},
{"s":"k","e":6.43,"w":0.01,"m":0.122,"y":0.1308,"d":0.0060,"c":1.2},
{"s":"k","e":6.45,"w":0.01,"m":0.110,"y":0.1054,"d":0.0066,"c":-0.7},
{"s":"k","e":6.47,"w":0.01,"m":0.097,"y":0.0993,"d":0.0058,"c":0.4},
{"s":"k","e":6.49,"w":0.01,"m":0.082,"y":0.0731,"d":0.0049,"c":-1.8},
{"s":"k","e":6.51,"w":0.01,"m":0.067,"y":0.0718,"d":0.0040,"c":1.2},
{"s":"k","e":6.53,"w":0.01,"m":0.054,"y":0.0540,"d":0.0032,"c":0.0},
{"s":"k","e":6.55,"w":0.01,"m":0.044,"y":0.0411,"d":0.0026,"c":-1.1},
{"s":"k","e":6.57,"w":0.01,"m":0.037,"y":0.0423,"d":0.0022,"c":2.4},
{"s":"k","e":6.59,"w":0.01,"m":0.0317,"y":0.0307,"d":0.0019,"c":-0.5},
{"s":"k","e":6.61,"w":0.01,"m":0.0310,"y":0.0329,"d":0.0019,"c":1.0},
{"s":"k","e":6.63,"w":0.01,"m":0.0305,"y":0.0376,"d":0.0018,"c":3.9},
{"s":"k","e":6.66,"w":0.015,"m":0.0298,"y":0.0279,"d":0.0024,"c":-0.8},
{"s":"k","e":6.69,"w":0.015,"m":0.0290,"y":0.0322,"d":0.0023,"c":1.4},
{"s":"k","e":6.72,"w":0.015,"m":0.0275,"y":0.0282,"d":0.0022,"c":0.3},
{"s":"k","e":6.75,"w":0.015,"m":0.0255,"y":0.0222,"d":0.0020,"c":-1.6},
{"s":"k","e":6.78,"w":0.015,"m":0.0230,"y":0.0270,"d":0.0018,"c":2.2},
{"s":"k","e":6.81,"w":0.015,"m":0.0210,"y":0.0202,"d":0.0017,"c":-0.5},
{"s":"k","e":6.84,"w":0.015,"m":0.0204,"y":0.0219,"d":0.0016,"c":0.9},
{"s":"k","e":6.87,"w":0.015,"m":0.0203,"y":0.0169,"d":0.0016,"c":-2.1},
{"s":"k","e":6.90,"w":0.015,"m":0.0210,"y":0.0228,"d":0.0017,"c":1.1},
{"s":"k","e":6.93,"w":0.015,"m":0.0222,"y":0.0226,"d":0.0018,"c":0.2},
{"s":"k","e":6.96,"w":0.015,"m":0.0237,"y":0.0212,"d":0.0019,"c":-1.3},
{"s":"k","e":6.99,"w":0.015,"m":0.0252,"y":0.0288,"d":0.0020,"c":1.8},
{"s":"k","e":7.02,"w":0.015,"m":0.0268,"y":0.0277,"d":0.0021,"c":0.4},
{"s":"k","e":7.05,"w":0.015,"m":0.0278,"y":0.0258,"d":0.0022,"c":-0.9},
{"s":"k","e":7.08,"w":0.015,"m":0.0250,"y":0.0264,"d":0.0020,"c":0.7},
{"s":"k","e":7.11,"w":0.015,"m":0.0200,"y":0.0224,"d":0.0016,"c":1.5},
{"s":"k","e":7.14,"w":0.015,"m":0.0168,"y":0.0165,"d":0.0013,"c":-0.2},
{"s":"k","e":7.17,"w":0.02,"m":0.0150,"y":0.0158,"d":0.00165,"c":0.5},
{"s":"k","e":7.21,"w":0.02,"m":0.0128,"y":0.0117,"d":0.0014,"c":-0.8},
{"s":"k","e":7.25,"w":0.02,"m":0.0108,"y":0.0122,"d":0.0012,"c":1.2},
{"s":"k","e":7.30,"w":0.025,"m":0.0099,"y":0.0109,"d":0.0011,"c":0.9},
{"s":"k","e":7.35,"w":0.025,"m":0.0094,"y":0.0115,"d":0.0010,"c":2.0},
{"s":"k","e":7.40,"w":0.025,"m":0.0092,"y":0.0108,"d":0.0010,"c":1.6},
{"s":"k","e":7.47,"w":0.035,"m":0.0088,"y":0.0106,"d":0.0010,"c":1.9},
{"s":"k","e":7.54,"w":0.035,"m":0.0086,"y":0.0083,"d":0.00095,"c":-0.3},
{"s":"k","e":7.62,"w":0.04,"m":0.0083,"y":0.0088,"d":0.00091,"c":0.6},
{"s":"k","e":7.70,"w":0.04,"m":0.0080,"y":0.0083,"d":0.00088,"c":0.3},
{"s":"k","e":7.78,"w":0.04,"m":0.0078,"y":0.0069,"d":0.0030,"c":-0.3},
{"s":"r","e":4.025,"w":0.025,"m":0.0159,"y":0.0147,"d":0.0021,"c":-0.6},
{"s":"r","e":4.075,"w":0.025,"m":0.0157,"y":0.0181,"d":0.0020,"c":1.2},
{"s":"r","e":4.125,"w":0.025,"m":0.0154,"y":0.0160,"d":0.0020,"c":0.3},
{"s":"r","e":4.175,"w":0.025,"m":0.0152,"y":0.0114,"d":0.0020,"c":-1.9},
{"s":"r","e":4.225,"w":0.025,"m":0.0150,"y":0.0166,"d":0.0020,"c":0.8},
{"s":"r","e":4.275,"w":0.025,"m":0.0148,"y":0.0179,"d":0.0019,"c":1.6},
{"s":"r","e":4.325,"w":0.025,"m":0.0146,"y":0.0138,"d":0.0019,"c":-0.4},
{"s":"r","e":4.375,"w":0.025,"m":0.0143,"y":0.0119,"d":0.0019,"c":-1.3},
{"s":"r","e":4.425,"w":0.025,"m":0.0141,"y":0.0178,"d":0.0018,"c":2.0},
{"s":"r","e":4.475,"w":0.025,"m":0.0139,"y":0.0141,"d":0.0018,"c":0.1},
{"s":"r","e":4.525,"w":0.025,"m":0.0137,"y":0.0123,"d":0.0018,"c":-0.8},
{"s":"r","e":4.575,"w":0.025,"m":0.0134,"y":0.0153,"d":0.0017,"c":1.1},
{"s":"r","e":4.625,"w":0.025,"m":0.0132,"y":0.0094,"d":0.0017,"c":-2.2},
{"s":"r","e":4.675,"w":0.025,"m":0.0130,"y":0.0138,"d":0.0017,"c":0.5},
{"s":"r","e":4.725,"w":0.025,"m":0.0127,"y":0.0142,"d":0.0017,"c":0.9},
{"s":"r","e":4.775,"w":0.025,"m":0.0125,"y":0.0109,"d":0.0016,"c":-1.0},
{"s":"r","e":4.825,"w":0.025,"m":0.0123,"y":0.0150,"d":0.0016,"c":1.7},
{"s":"r","e":4.875,"w":0.025,"m":0.0121,"y":0.0118,"d":0.0016,"c":-0.2},
{"s":"r","e":4.925,"w":0.025,"m":0.0118,"y":0.0124,"d":0.0015,"c":0.4},
{"s":"r","e":4.975,"w":0.025,"m":0.0116,"y":0.0092,"d":0.0015,"c":-1.6},
{"s":"r","e":5.025,"w":0.025,"m":0.0114,"y":0.0133,"d":0.0015,"c":1.3},
{"s":"r","e":5.075,"w":0.025,"m":0.0111,"y":0.0101,"d":0.0014,"c":-0.7},
{"s":"r","e":5.125,"w":0.025,"m":0.0109,"y":0.0118,"d":0.0014,"c":0.6},
{"s":"r","e":5.175,"w":0.025,"m":0.0106,"y":0.0072,"d":0.0014,"c":-2.5},
{"s":"r","e":5.225,"w":0.025,"m":0.0104,"y":0.0118,"d":0.0014,"c":1.0},
{"s":"r","e":5.275,"w":0.025,"m":0.0101,"y":0.0104,"d":0.0013,"c":0.2},
{"s":"r","e":5.325,"w":0.025,"m":0.0099,"y":0.0084,"d":0.0013,"c":-1.2},
{"s":"r","e":5.375,"w":0.025,"m":0.0096,"y":0.0118,"d":0.0012,"c":1.8},
{"s":"r","e":5.425,"w":0.025,"m":0.0094,"y":0.0088,"d":0.0012,"c":-0.5},
{"s":"r","e":5.475,"w":0.025,"m":0.0092,"y":0.0100,"d":0.0012,"c":0.7},
{"s":"r","e":5.525,"w":0.025,"m":0.0090,"y":0.0069,"d":0.0012,"c":-1.8},
{"s":"r","e":5.575,"w":0.025,"m":0.0088,"y":0.0091,"d":0.0011,"c":0.3},
{"s":"r","e":5.625,"w":0.025,"m":0.0085,"y":0.0100,"d":0.0011,"c":1.4},
{"s":"r","e":5.675,"w":0.025,"m":0.0083,"y":0.0055,"d":0.0011,"c":-2.6},
{"s":"r","e":5.725,"w":0.025,"m":0.0081,"y":0.0081,"d":0.0011,"c":0.0},
{"s":"r","e":5.775,"w":0.025,"m":0.0079,"y":0.0090,"d":0.0010,"c":1.1},
{"s":"r","e":5.825,"w":0.025,"m":0.0078,"y":0.0069,"d":0.0010,"c":-0.9},
{"s":"r","e":5.875,"w":0.025,"m":0.0077,"y":0.0082,"d":0.0010,"c":0.5},
{"s":"r","e":5.925,"w":0.025,"m":0.0076,"y":0.0062,"d":0.0010,"c":-1.4},
{"s":"r","e":5.975,"w":0.025,"m":0.0075,"y":0.0094,"d":0.0010,"c":1.9},
{"s":"r","e":6.025,"w":0.025,"m":0.0074,"y":0.0071,"d":0.0010,"c":-0.3},
{"s":"r","e":6.075,"w":0.025,"m":0.0073,"y":0.0081,"d":0.00095,"c":0.8},
{"s":"r","e":6.125,"w":0.025,"m":0.0072,"y":0.0062,"d":0.00094,"c":-1.1},
{"s":"r","e":6.175,"w":0.025,"m":0.0073,"y":0.0077,"d":0.00095,"c":0.4},
{"s":"r","e":4.05,"w":0.025,"m":0.0158,"y":0.0172,"d":0.0021,"c":0.7},
{"s":"r","e":4.10,"w":0.025,"m":0.0156,"y":0.0134,"d":0.0020,"c":-1.1},
{"s":"r","e":4.15,"w":0.025,"m":0.0153,"y":0.0191,"d":0.0020,"c":1.9},
{"s":"r","e":4.20,"w":0.025,"m":0.0151,"y":0.0145,"d":0.0020,"c":-0.3},
{"s":"r","e":4.25,"w":0.025,"m":0.0149,"y":0.0118,"d":0.0019,"c":-1.6},
{"s":"r","e":4.30,"w":0.025,"m":0.0147,"y":0.0155,"d":0.0019,"c":0.4},
{"s":"r","e":4.35,"w":0.025,"m":0.0145,"y":0.0168,"d":0.0019,"c":1.2},
{"s":"r","e":4.40,"w":0.025,"m":0.0142,"y":0.0100,"d":0.0018,"c":-2.3},
{"s":"r","e":4.45,"w":0.025,"m":0.0140,"y":0.0155,"d":0.0018,"c":0.8},
{"s":"r","e":4.50,"w":0.025,"m":0.0138,"y":0.0140,"d":0.0018,"c":0.1},
{"s":"r","e":4.55,"w":0.025,"m":0.0136,"y":0.0164,"d":0.0018,"c":1.6},
{"s":"r","e":4.60,"w":0.025,"m":0.0133,"y":0.0117,"d":0.0017,"c":-0.9},
{"s":"r","e":4.65,"w":0.025,"m":0.0131,"y":0.0124,"d":0.0017,"c":-0.4},
{"s":"r","e":4.70,"w":0.025,"m":0.0129,"y":0.0166,"d":0.0017,"c":2.2},
{"s":"r","e":4.75,"w":0.025,"m":0.0126,"y":0.0105,"d":0.0016,"c":-1.3},
{"s":"r","e":4.80,"w":0.025,"m":0.0124,"y":0.0134,"d":0.0016,"c":0.6},
{"s":"r","e":4.85,"w":0.025,"m":0.0122,"y":0.0090,"d":0.0016,"c":-2.0},
{"s":"r","e":4.90,"w":0.025,"m":0.0120,"y":0.0136,"d":0.0016,"c":1.0},
{"s":"r","e":4.95,"w":0.025,"m":0.0117,"y":0.0122,"d":0.0015,"c":0.3},
{"s":"r","e":5.00,"w":0.025,"m":0.0115,"y":0.0105,"d":0.0015,"c":-0.7},
{"s":"r","e":5.05,"w":0.025,"m":0.0112,"y":0.0138,"d":0.0015,"c":1.8},
{"s":"r","e":5.10,"w":0.025,"m":0.0110,"y":0.0089,"d":0.0014,"c":-1.5},
{"s":"r","e":5.15,"w":0.025,"m":0.0107,"y":0.0107,"d":0.0014,"c":0.0},
{"s":"r","e":5.20,"w":0.025,"m":0.0105,"y":0.0117,"d":0.0014,"c":0.9},
{"s":"r","e":5.25,"w":0.025,"m":0.0102,"y":0.0070,"d":0.0013,"c":-2.4},
{"s":"r","e":5.30,"w":0.025,"m":0.0100,"y":0.0118,"d":0.0013,"c":1.4},
{"s":"r","e":5.35,"w":0.025,"m":0.0097,"y":0.0103,"d":0.0013,"c":0.5},
{"s":"r","e":5.40,"w":0.025,"m":0.0095,"y":0.0083,"d":0.0012,"c":-1.0},
{"s":"r","e":5.45,"w":0.025,"m":0.0093,"y":0.0117,"d":0.0012,"c":2.0},
{"s":"r","e":5.50,"w":0.025,"m":0.0091,"y":0.0084,"d":0.0012,"c":-0.6},
{"s":"r","e":5.55,"w":0.025,"m":0.0089,"y":0.0067,"d":0.0012,"c":-1.9},
{"s":"r","e":5.60,"w":0.025,"m":0.0086,"y":0.0098,"d":0.0011,"c":1.1},
{"s":"r","e":5.65,"w":0.025,"m":0.0084,"y":0.0086,"d":0.0011,"c":0.2},
{"s":"r","e":5.70,"w":0.025,"m":0.0082,"y":0.0069,"d":0.0011,"c":-1.2},
{"s":"r","e":5.75,"w":0.025,"m":0.0080,"y":0.0098,"d":0.0010,"c":1.7},
{"s":"r","e":5.80,"w":0.025,"m":0.0078,"y":0.0076,"d":0.0010,"c":-0.2},
{"s":"r","e":5.85,"w":0.025,"m":0.0077,"y":0.0055,"d":0.0010,"c":-2.2},
{"s":"r","e":5.90,"w":0.025,"m":0.0076,"y":0.0084,"d":0.0010,"c":0.8},
{"s":"r","e":5.95,"w":0.025,"m":0.0075,"y":0.0088,"d":0.0010,"c":1.3},
{"s":"r","e":6.00,"w":0.025,"m":0.0074,"y":0.0066,"d":0.0010,"c":-0.8},
{"s":"r","e":6.05,"w":0.025,"m":0.0073,"y":0.0077,"d":0.00095,"c":0.4},
{"s":"r","e":6.10,"w":0.025,"m":0.0072,"y":0.0086,"d":0.00094,"c":1.5},
{"s":"r","e":6.15,"w":0.025,"m":0.0072,"y":0.0059,"d":0.00094,"c":-1.4},
{"s":"r","e":6.215,"w":0.015,"m":0.0076,"y":0.0083,"d":0.00076,"c":0.9},
{"s":"r","e":6.245,"w":0.015,"m":0.0084,"y":0.0081,"d":0.00084,"c":-0.4},
{"s":"r","e":6.275,"w":0.015,"m":0.0100,"y":0.0115,"d":0.0010,"c":1.5},
{"s":"r","e":6.305,"w":0.015,"m":0.0120,"y":0.0122,"d":0.0012,"c":0.2},
{"s":"r","e":6.335,"w":0.015,"m":0.0155,"y":0.0143,"d":0.00155,"c":-0.8},
{"s":"r","e":6.365,"w":0.015,"m":0.0210,"y":0.0233,"d":0.0021,"c":1.1},
{"s":"r","e":6.395,"w":0.015,"m":0.0255,"y":0.0270,"d":0.0026,"c":0.6},
{"s":"r","e":6.425,"w":0.015,"m":0.0245,"y":0.0216,"d":0.0025,"c":-1.2},
{"s":"r","e":6.455,"w":0.015,"m":0.0180,"y":0.0212,"d":0.0018,"c":1.8},
{"s":"r","e":6.485,"w":0.015,"m":0.0125,"y":0.0119,"d":0.0013,"c":-0.5},
{"s":"r","e":6.515,"w":0.015,"m":0.0090,"y":0.0093,"d":0.0009,"c":0.3},
{"s":"r","e":6.545,"w":0.015,"m":0.0072,"y":0.0082,"d":0.00072,"c":1.4},
{"s":"r","e":6.575,"w":0.015,"m":0.0065,"y":0.0059,"d":0.00065,"c":-0.9},
{"s":"r","e":6.63,"w":0.025,"m":0.0063,"y":0.0067,"d":0.00095,"c":0.4},
{"s":"r","e":6.68,"w":0.025,"m":0.0061,"y":0.0052,"d":0.00092,"c":-1.0},
{"s":"r","e":6.73,"w":0.025,"m":0.0050,"y":0.0056,"d":0.00075,"c":0.8},
{"s":"r","e":6.78,"w":0.025,"m":0.0045,"y":0.0035,"d":0.00068,"c":-1.5},
{"s":"r","e":6.83,"w":0.025,"m":0.0041,"y":0.0039,"d":0.00062,"c":-0.4},
{"s":"r","e":6.88,"w":0.025,"m":0.0040,"y":0.0047,"d":0.0006,"c":1.2},
{"s":"r","e":6.93,"w":0.025,"m":0.0041,"y":0.0043,"d":0.00062,"c":0.3},
{"s":"r","e":6.98,"w":0.025,"m":0.0042,"y":0.0037,"d":0.00063,"c":-0.8},
{"s":"r","e":7.03,"w":0.025,"m":0.0048,"y":0.0055,"d":0.00072,"c":1.0},
{"s":"r","e":7.08,"w":0.025,"m":0.0044,"y":0.0055,"d":0.00066,"c":1.6},
{"s":"r","e":7.13,"w":0.025,"m":0.0027,"y":0.0029,"d":0.0004,"c":0.5},
{"s":"r","e":7.19,"w":0.03,"m":0.0019,"y":0.0022,"d":0.00038,"c":0.8},
{"s":"r","e":7.27,"w":0.04,"m":0.0016,"y":0.00144,"d":0.00032,"c":-0.5},
{"s":"r","e":7.37,"w":0.05,"m":0.0014,"y":0.00165,"d":0.00028,"c":0.9},
{"s":"r","e":7.50,"w":0.06,"m":0.0013,"y":0.00161,"d":0.00026,"c":1.2},
{"s":"r","e":7.64,"w":0.07,"m":0.0012,"y":0.00158,"d":0.00024,"c":1.6},
{"s":"r","e":7.79,"w":0.07,"m":0.0011,"y":0.00139,"d":0.00022,"c":1.3},
{"s":"r","e":7.94,"w":0.06,"m":0.00098,"y":0.00102,"d":0.00012,"c":0.2},
{"s":"g","e":4.05,"w":0.025,"m":0.0170,"y":0.0194,"d":0.0019,"c":1.3},
{"s":"g","e":4.10,"w":0.025,"m":0.0169,"y":0.0165,"d":0.0019,"c":-0.2},
{"s":"g","e":4.15,"w":0.025,"m":0.0167,"y":0.0206,"d":0.0018,"c":2.1},
{"s":"g","e":4.20,"w":0.025,"m":0.0165,"y":0.0174,"d":0.0018,"c":0.5},
{"s":"g","e":4.25,"w":0.025,"m":0.0163,"y":0.0138,"d":0.0018,"c":-1.4},
{"s":"g","e":4.30,"w":0.025,"m":0.0162,"y":0.0178,"d":0.0018,"c":0.9},
{"s":"g","e":4.35,"w":0.025,"m":0.0160,"y":0.0190,"d":0.0018,"c":1.7},
{"s":"g","e":4.40,"w":0.025,"m":0.0158,"y":0.0148,"d":0.0017,"c":-0.6},
{"s":"g","e":4.45,"w":0.025,"m":0.0157,"y":0.0160,"d":0.0017,"c":0.2},
{"s":"g","e":4.50,"w":0.025,"m":0.0155,"y":0.0198,"d":0.0017,"c":2.5},
{"s":"g","e":4.55,"w":0.025,"m":0.0153,"y":0.0136,"d":0.0017,"c":-1.0},
{"s":"g","e":4.60,"w":0.025,"m":0.0151,"y":0.0158,"d":0.0017,"c":0.4},
{"s":"g","e":4.65,"w":0.025,"m":0.0149,"y":0.0167,"d":0.0016,"c":1.1},
{"s":"g","e":4.70,"w":0.025,"m":0.0147,"y":0.0120,"d":0.0016,"c":-1.7},
{"s":"g","e":4.75,"w":0.025,"m":0.0145,"y":0.0156,"d":0.0016,"c":0.7},
{"s":"g","e":4.80,"w":0.025,"m":0.0143,"y":0.0143,"d":0.0016,"c":0.0},
{"s":"g","e":4.85,"w":0.025,"m":0.0141,"y":0.0164,"d":0.0016,"c":1.5},
{"s":"g","e":4.90,"w":0.025,"m":0.0139,"y":0.0125,"d":0.0015,"c":-0.9},
{"s":"g","e":4.95,"w":0.025,"m":0.0137,"y":0.0167,"d":0.0015,"c":2.0},
{"s":"g","e":5.00,"w":0.025,"m":0.0135,"y":0.0131,"d":0.0015,"c":-0.3},
{"s":"g","e":5.05,"w":0.025,"m":0.0132,"y":0.0144,"d":0.0015,"c":0.8},
{"s":"g","e":5.10,"w":0.025,"m":0.0130,"y":0.0147,"d":0.0014,"c":1.2},
{"s":"g","e":5.15,"w":0.025,"m":0.0127,"y":0.0099,"d":0.0014,"c":-2.0},
{"s":"g","e":5.20,"w":0.025,"m":0.0125,"y":0.0129,"d":0.0014,"c":0.3},
{"s":"g","e":5.25,"w":0.025,"m":0.0122,"y":0.0143,"d":0.0013,"c":1.6},
{"s":"g","e":5.30,"w":0.025,"m":0.0120,"y":0.0113,"d":0.0013,"c":-0.5},
{"s":"g","e":5.35,"w":0.025,"m":0.0117,"y":0.0129,"d":0.0013,"c":0.9},
{"s":"g","e":5.40,"w":0.025,"m":0.0115,"y":0.0152,"d":0.0013,"c":2.9},
{"s":"g","e":5.45,"w":0.025,"m":0.0113,"y":0.0103,"d":0.0012,"c":-0.8},
{"s":"g","e":5.50,"w":0.025,"m":0.0111,"y":0.0112,"d":0.0012,"c":0.1},
{"s":"g","e":5.55,"w":0.025,"m":0.0109,"y":0.0126,"d":0.0012,"c":1.4},
{"s":"g","e":5.60,"w":0.025,"m":0.0107,"y":0.0093,"d":0.0012,"c":-1.2},
{"s":"g","e":5.65,"w":0.025,"m":0.0104,"y":0.0111,"d":0.0011,"c":0.6},
{"s":"g","e":5.70,"w":0.025,"m":0.0102,"y":0.0123,"d":0.0011,"c":1.9},
{"s":"g","e":5.75,"w":0.025,"m":0.0100,"y":0.0096,"d":0.0011,"c":-0.4},
{"s":"g","e":5.80,"w":0.025,"m":0.0098,"y":0.0082,"d":0.0011,"c":-1.5},
{"s":"g","e":5.85,"w":0.025,"m":0.0097,"y":0.0108,"d":0.0011,"c":1.0},
{"s":"g","e":5.90,"w":0.025,"m":0.0096,"y":0.0099,"d":0.0011,"c":0.3},
{"s":"g","e":5.95,"w":0.025,"m":0.0095,"y":0.0118,"d":0.0010,"c":2.2},
{"s":"g","e":6.00,"w":0.025,"m":0.0094,"y":0.0087,"d":0.0010,"c":-0.7},
{"s":"g","e":6.05,"w":0.025,"m":0.0094,"y":0.0107,"d":0.0010,"c":1.3},
{"s":"g","e":6.10,"w":0.025,"m":0.0093,"y":0.0092,"d":0.0010,"c":-0.1},
{"s":"g","e":6.15,"w":0.025,"m":0.0095,"y":0.0100,"d":0.0010,"c":0.5},
{"s":"g","e":4.025,"w":0.025,"m":0.0171,"y":0.0188,"d":0.0019,"c":0.9},
{"s":"g","e":4.075,"w":0.025,"m":0.0169,"y":0.0206,"d":0.0019,"c":2.0},
{"s":"g","e":4.125,"w":0.025,"m":0.0168,"y":0.0157,"d":0.0018,"c":-0.6},
{"s":"g","e":4.175,"w":0.025,"m":0.0166,"y":0.0190,"d":0.0018,"c":1.3},
{"s":"g","e":4.225,"w":0.025,"m":0.0164,"y":0.0168,"d":0.0018,"c":0.2},
{"s":"g","e":4.275,"w":0.025,"m":0.0163,"y":0.0136,"d":0.0018,"c":-1.5},
{"s":"g","e":4.325,"w":0.025,"m":0.0161,"y":0.0207,"d":0.0018,"c":2.6},
{"s":"g","e":4.375,"w":0.025,"m":0.0159,"y":0.0168,"d":0.0017,"c":0.5},
{"s":"g","e":4.425,"w":0.025,"m":0.0158,"y":0.0142,"d":0.0017,"c":-0.9},
{"s":"g","e":4.475,"w":0.025,"m":0.0156,"y":0.0175,"d":0.0017,"c":1.1},
{"s":"g","e":4.525,"w":0.025,"m":0.0154,"y":0.0154,"d":0.0017,"c":0.0},
{"s":"g","e":4.575,"w":0.025,"m":0.0152,"y":0.0182,"d":0.0017,"c":1.8},
{"s":"g","e":4.625,"w":0.025,"m":0.0150,"y":0.0130,"d":0.0017,"c":-1.2},
{"s":"g","e":4.675,"w":0.025,"m":0.0148,"y":0.0159,"d":0.0016,"c":0.7},
{"s":"g","e":4.725,"w":0.025,"m":0.0146,"y":0.0183,"d":0.0016,"c":2.3},
{"s":"g","e":4.775,"w":0.025,"m":0.0144,"y":0.0138,"d":0.0016,"c":-0.4},
{"s":"g","e":4.825,"w":0.025,"m":0.0142,"y":0.0148,"d":0.0016,"c":0.4},
{"s":"g","e":4.875,"w":0.025,"m":0.0140,"y":0.0112,"d":0.0015,"c":-1.8},
{"s":"g","e":4.925,"w":0.025,"m":0.0138,"y":0.0159,"d":0.0015,"c":1.4},
{"s":"g","e":4.975,"w":0.025,"m":0.0136,"y":0.0148,"d":0.0015,"c":0.8},
{"s":"g","e":5.025,"w":0.025,"m":0.0134,"y":0.0131,"d":0.0015,"c":-0.2},
{"s":"g","e":5.075,"w":0.025,"m":0.0131,"y":0.0161,"d":0.0014,"c":2.1},
{"s":"g","e":5.125,"w":0.025,"m":0.0129,"y":0.0115,"d":0.0014,"c":-1.0},
{"s":"g","e":5.175,"w":0.025,"m":0.0126,"y":0.0134,"d":0.0014,"c":0.6},
{"s":"g","e":5.225,"w":0.025,"m":0.0124,"y":0.0144,"d":0.0014,"c":1.5},
{"s":"g","e":5.275,"w":0.025,"m":0.0121,"y":0.0112,"d":0.0013,"c":-0.7},
{"s":"g","e":5.325,"w":0.025,"m":0.0119,"y":0.0144,"d":0.0013,"c":1.9},
{"s":"g","e":5.375,"w":0.025,"m":0.0116,"y":0.0120,"d":0.0013,"c":0.3},
{"s":"g","e":5.425,"w":0.025,"m":0.0114,"y":0.0098,"d":0.0013,"c":-1.3},
{"s":"g","e":5.475,"w":0.025,"m":0.0112,"y":0.0124,"d":0.0012,"c":1.0},
{"s":"g","e":5.525,"w":0.025,"m":0.0110,"y":0.0139,"d":0.0012,"c":2.4},
{"s":"g","e":5.575,"w":0.025,"m":0.0108,"y":0.0102,"d":0.0012,"c":-0.5},
{"s":"g","e":5.625,"w":0.025,"m":0.0106,"y":0.0107,"d":0.0012,"c":0.1},
{"s":"g","e":5.675,"w":0.025,"m":0.0103,"y":0.0085,"d":0.0011,"c":-1.6},
{"s":"g","e":5.725,"w":0.025,"m":0.0101,"y":0.0114,"d":0.0011,"c":1.2},
{"s":"g","e":5.775,"w":0.025,"m":0.0099,"y":0.0106,"d":0.0011,"c":0.6},
{"s":"g","e":5.825,"w":0.025,"m":0.0098,"y":0.0120,"d":0.0011,"c":2.0},
{"s":"g","e":5.875,"w":0.025,"m":0.0097,"y":0.0088,"d":0.0011,"c":-0.8},
{"s":"g","e":5.925,"w":0.025,"m":0.0096,"y":0.0106,"d":0.0011,"c":0.9},
{"s":"g","e":5.975,"w":0.025,"m":0.0095,"y":0.0112,"d":0.0010,"c":1.6},
{"s":"g","e":6.025,"w":0.025,"m":0.0094,"y":0.0083,"d":0.0010,"c":-1.1},
{"s":"g","e":6.075,"w":0.025,"m":0.0094,"y":0.0097,"d":0.0010,"c":0.3},
{"s":"g","e":6.125,"w":0.025,"m":0.0094,"y":0.0108,"d":0.0010,"c":1.4},
{"s":"g","e":6.175,"w":0.025,"m":0.0096,"y":0.0093,"d":0.0011,"c":-0.3},
{"s":"g","e":6.20,"w":0.015,"m":0.0099,"y":0.0104,"d":0.00079,"c":0.6},
{"s":"g","e":6.23,"w":0.015,"m":0.0108,"y":0.0120,"d":0.00086,"c":1.4},
{"s":"g","e":6.26,"w":0.015,"m":0.0118,"y":0.0113,"d":0.00094,"c":-0.5},
{"s":"g","e":6.29,"w":0.015,"m":0.0150,"y":0.0162,"d":0.0012,"c":1.0},
{"s":"g","e":6.32,"w":0.015,"m":0.0200,"y":0.0181,"d":0.0016,"c":-1.2},
{"s":"g","e":6.35,"w":0.015,"m":0.0280,"y":0.0298,"d":0.0022,"c":0.8},
{"s":"g","e":6.38,"w":0.015,"m":0.0340,"y":0.0384,"d":0.0027,"c":1.6},
{"s":"g","e":6.41,"w":0.015,"m":0.0367,"y":0.0376,"d":0.0029,"c":0.3},
{"s":"g","e":6.44,"w":0.015,"m":0.0300,"y":0.0278,"d":0.0024,"c":-0.9},
{"s":"g","e":6.47,"w":0.015,"m":0.0197,"y":0.0227,"d":0.0016,"c":1.9},
{"s":"g","e":6.50,"w":0.015,"m":0.0138,"y":0.0134,"d":0.0011,"c":-0.4},
{"s":"g","e":6.53,"w":0.015,"m":0.0100,"y":0.0068,"d":0.0008,"c":-4.0},
{"s":"g","e":6.56,"w":0.015,"m":0.0085,"y":0.0075,"d":0.00068,"c":-1.5},
{"s":"g","e":6.59,"w":0.015,"m":0.0088,"y":0.0096,"d":0.0007,"c":1.2},
{"s":"g","e":6.62,"w":0.02,"m":0.0090,"y":0.0100,"d":0.0011,"c":0.9},
{"s":"g","e":6.66,"w":0.02,"m":0.0087,"y":0.0103,"d":0.00104,"c":1.5},
{"s":"g","e":6.70,"w":0.02,"m":0.0078,"y":0.0075,"d":0.00094,"c":-0.3},
{"s":"g","e":6.74,"w":0.02,"m":0.0066,"y":0.0075,"d":0.00079,"c":1.1},
{"s":"g","e":6.78,"w":0.02,"m":0.0055,"y":0.0058,"d":0.00066,"c":0.4},
{"s":"g","e":6.82,"w":0.02,"m":0.0051,"y":0.0046,"d":0.00061,"c":-0.8},
{"s":"g","e":6.86,"w":0.02,"m":0.0048,"y":0.0051,"d":0.00058,"c":0.6},
{"s":"g","e":6.90,"w":0.02,"m":0.0049,"y":0.0057,"d":0.00059,"c":1.3},
{"s":"g","e":6.94,"w":0.02,"m":0.0052,"y":0.0049,"d":0.00062,"c":-0.5},
{"s":"g","e":6.98,"w":0.02,"m":0.0055,"y":0.0060,"d":0.00066,"c":0.8},
{"s":"g","e":7.02,"w":0.02,"m":0.0062,"y":0.0075,"d":0.00074,"c":1.7},
{"s":"g","e":7.06,"w":0.02,"m":0.0068,"y":0.0070,"d":0.00082,"c":0.2},
{"s":"g","e":7.10,"w":0.02,"m":0.0052,"y":0.0048,"d":0.00062,"c":-0.6},
{"s":"g","e":7.14,"w":0.02,"m":0.0038,"y":0.0042,"d":0.00046,"c":0.9},
{"s":"g","e":7.19,"w":0.025,"m":0.0027,"y":0.00294,"d":0.00049,"c":0.5},
{"s":"g","e":7.25,"w":0.03,"m":0.0021,"y":0.00259,"d":0.00038,"c":1.3},
{"s":"g","e":7.32,"w":0.035,"m":0.0018,"y":0.00232,"d":0.00032,"c":1.6},
{"s":"g","e":7.40,"w":0.04,"m":0.0017,"y":0.00231,"d":0.00031,"c":2.0},
{"s":"g","e":7.50,"w":0.05,"m":0.00155,"y":0.00133,"d":0.00028,"c":-0.8},
{"s":"g","e":7.61,"w":0.05,"m":0.00145,"y":0.00129,"d":0.00026,"c":-0.6},
{"s":"g","e":7.72,"w":0.05,"m":0.0014,"y":0.00117,"d":0.00025,"c":-0.9},
{"s":"g","e":7.83,"w":0.05,"m":0.0013,"y":0.00163,"d":0.00023,"c":1.4},
{"s":"g","e":7.94,"w":0.05,"m":0.0012,"y":0.00124,"d":0.00022,"c":0.2}
]
},
"hconcat":[
{"data":{"name":"L"},"spacing":0,"bounds":"flush","vconcat":[
{"width":577,"height":317,"resolve":{"axis":{"x":"independent","y":"independent"}},"layer":[
{"mark":{"type":"errorbar","thickness":2,"ticks":false},"encoding":{
"x":{"field":"e","type":"quantitative","scale":{"type":"log","domain":[4,8],"nice":false},"axis":null},
"xError":{"field":"w"},
"y":{"field":"y","type":"quantitative","scale":{"type":"log","domain":[0.0009,0.151],"nice":false},"axis":null},
"color":{"field":"s","type":"nominal","scale":{"domain":["k","r","g"],"range":["#000000","#ff0000","#00ff00"]},"legend":null}}},
{"mark":{"type":"errorbar","thickness":2,"ticks":false},"encoding":{
"y":{"field":"y","type":"quantitative","scale":{"type":"log","domain":[0.0009,0.151],"nice":false},"axis":null},
"yError":{"field":"d"},
"x":{"field":"e","type":"quantitative","scale":{"type":"log","domain":[4,8],"nice":false},"axis":null},
"color":{"field":"s","type":"nominal","scale":{"domain":["k","r","g"],"range":["#000000","#ff0000","#00ff00"]},"legend":null}}},
{"mark":{"type":"line","interpolate":"step","strokeWidth":2.5},"encoding":{
"x":{"field":"e","type":"quantitative","scale":{"type":"log","domain":[4,8],"nice":false},"axis":{"orient":"bottom","values":[5,6,7],"labels":false,"tickSize":-9,"title":null}},
"y":{"field":"m","type":"quantitative","scale":{"type":"log","domain":[0.0009,0.151],"nice":false},"axis":{"orient":"left","values":[0.001,0.01,0.1],"tickSize":-9,"labelPadding":26,"labelExpr":"datum.value < 0.005 ? '10⁻³' : (datum.value < 0.05 ? '0.01' : '0.1')","title":"normalized counts s⁻¹ keV⁻¹","titleX":-67,"titleY":181,"titleAngle":-90,"titleAlign":"center","titleBaseline":"middle"}},
"color":{"field":"s","type":"nominal","scale":{"domain":["k","r","g"],"range":["#000000","#ff0000","#00ff00"]},"legend":null}}},
{"data":{"values":[{}]},"mark":{"type":"text","font":"Liberation Serif","fontSize":21,"align":"left","baseline":"middle","color":"#000000"},"encoding":{
"x":{"datum":4.26,"type":"quantitative","scale":{"type":"log","domain":[4,8],"nice":false},"axis":{"orient":"top","values":[5,6,7],"labels":false,"tickSize":-9,"title":null}},
"y":{"datum":0.0019,"type":"quantitative","scale":{"type":"log","domain":[0.0009,0.151],"nice":false},"axis":{"orient":"left","values":[0.002,0.003,0.004,0.005,0.006,0.007,0.008,0.009,0.02,0.03,0.04,0.05,0.06,0.07,0.08,0.09],"labels":false,"tickSize":-5,"title":null}},
"text":{"value":"G0.11−0.11"}}},
{"data":{"values":[]},"mark":"point","encoding":{
"x":{"field":"e","type":"quantitative","scale":{"type":"log","domain":[4,8],"nice":false},"axis":null},
"y":{"field":"y","type":"quantitative","scale":{"type":"log","domain":[0.0009,0.151],"nice":false},"axis":{"orient":"right","values":[0.001,0.01,0.1],"labels":false,"tickSize":-9,"title":null}}}},
{"data":{"values":[]},"mark":"point","encoding":{
"x":{"field":"e","type":"quantitative","scale":{"type":"log","domain":[4,8],"nice":false},"axis":null},
"y":{"field":"y","type":"quantitative","scale":{"type":"log","domain":[0.0009,0.151],"nice":false},"axis":{"orient":"right","values":[0.002,0.003,0.004,0.005,0.006,0.007,0.008,0.009,0.02,0.03,0.04,0.05,0.06,0.07,0.08,0.09],"labels":false,"tickSize":-5,"title":null}}}}
]},
{"width":577,"height":141,"resolve":{"axis":{"x":"independent","y":"independent"}},"layer":[
{"mark":{"type":"errorbar","thickness":2,"ticks":false},"encoding":{
"x":{"field":"e","type":"quantitative","scale":{"type":"log","domain":[4,8],"nice":false},"axis":null},
"xError":{"field":"w"},
"y":{"field":"c","type":"quantitative","scale":{"domain":[-5,5],"nice":false},"axis":null},
"color":{"field":"s","type":"nominal","scale":{"domain":["k","r","g"],"range":["#000000","#ff0000","#00ff00"]},"legend":null}}},
{"transform":[{"joinaggregate":[{"op":"count","as":"u"}],"groupby":["s","e"]}],
"mark":{"type":"errorbar","thickness":2,"ticks":false},"encoding":{
"y":{"field":"c","type":"quantitative","scale":{"domain":[-5,5],"nice":false},"axis":null},
"yError":{"field":"u"},
"x":{"field":"e","type":"quantitative","scale":{"type":"log","domain":[4,8],"nice":false},"axis":null},
"color":{"field":"s","type":"nominal","scale":{"domain":["k","r","g"],"range":["#000000","#ff0000","#00ff00"]},"legend":null}}},
{"data":{"values":[{}]},"mark":{"type":"rule","color":"#00ff00","strokeWidth":2.5},"encoding":{
"y":{"datum":0,"type":"quantitative","scale":{"domain":[-5,5],"nice":false},"axis":{"orient":"left","values":[-4,-2,0,2,4],"tickSize":-9,"labelPadding":26,"title":"χ","titleFontSize":22,"titleX":-63,"titleY":70,"titleAngle":-90,"titleAlign":"center","titleBaseline":"middle"}}}},
{"data":{"values":[]},"mark":"point","encoding":{
"x":{"field":"e","type":"quantitative","scale":{"type":"log","domain":[4,8],"nice":false},"axis":{"orient":"bottom","values":[5,6,7],"tickSize":-9,"labelPadding":16,"labelExpr":"datum.value == 5 ? '5' : ''","title":"Energy (keV)","titleFontSize":22,"titleY":21,"titleBaseline":"top"}},
"y":{"field":"c","type":"quantitative","scale":{"domain":[-5,5],"nice":false},"axis":{"orient":"left","values":[-3,-1,1,3],"labels":false,"tickSize":-5,"title":null}}}},
{"data":{"values":[]},"mark":"point","encoding":{
"x":{"field":"e","type":"quantitative","scale":{"type":"log","domain":[4,8],"nice":false},"axis":{"orient":"top","values":[5,6,7],"labels":false,"tickSize":-9,"title":null}},
"y":{"field":"c","type":"quantitative","scale":{"domain":[-5,5],"nice":false},"axis":{"orient":"right","values":[-4,-2,0,2,4],"labels":false,"tickSize":-9,"title":null}}}},
{"data":{"values":[]},"mark":"point","encoding":{
"x":{"field":"e","type":"quantitative","scale":{"type":"log","domain":[4,8],"nice":false},"axis":null},
"y":{"field":"c","type":"quantitative","scale":{"domain":[-5,5],"nice":false},"axis":{"orient":"right","values":[-3,-1,1,3],"labels":false,"tickSize":-5,"title":null}}}}
]}
]},
{"data":{"name":"R"},"spacing":0,"bounds":"flush","vconcat":[
{"width":577,"height":317,"resolve":{"axis":{"x":"independent","y":"independent"}},"layer":[
{"mark":{"type":"errorbar","thickness":2,"ticks":false},"encoding":{
"x":{"field":"e","type":"quantitative","scale":{"type":"log","domain":[4,8],"nice":false},"axis":null},
"xError":{"field":"w"},
"y":{"field":"y","type":"quantitative","scale":{"type":"log","domain":[0.000885,0.138],"nice":false},"axis":null},
"color":{"field":"s","type":"nominal","scale":{"domain":["k","r","g"],"range":["#000000","#ff0000","#00ff00"]},"legend":null}}},
{"mark":{"type":"errorbar","thickness":2,"ticks":false},"encoding":{
"y":{"field":"y","type":"quantitative","scale":{"type":"log","domain":[0.000885,0.138],"nice":false},"axis":null},
"yError":{"field":"d"},
"x":{"field":"e","type":"quantitative","scale":{"type":"log","domain":[4,8],"nice":false},"axis":null},
"color":{"field":"s","type":"nominal","scale":{"domain":["k","r","g"],"range":["#000000","#ff0000","#00ff00"]},"legend":null}}},
{"mark":{"type":"line","interpolate":"step","strokeWidth":2.5},"encoding":{
"x":{"field":"e","type":"quantitative","scale":{"type":"log","domain":[4,8],"nice":false},"axis":{"orient":"bottom","values":[5,6,7],"labels":false,"tickSize":-9,"title":null}},
"y":{"field":"m","type":"quantitative","scale":{"type":"log","domain":[0.000885,0.138],"nice":false},"axis":{"orient":"left","values":[0.001,0.01,0.1],"tickSize":-9,"labelPadding":26,"labelExpr":"datum.value < 0.005 ? '10⁻³' : (datum.value < 0.05 ? '0.01' : '0.1')","title":"normalized counts s⁻¹ keV⁻¹","titleX":-67,"titleY":181,"titleAngle":-90,"titleAlign":"center","titleBaseline":"middle"}},
"color":{"field":"s","type":"nominal","scale":{"domain":["k","r","g"],"range":["#000000","#ff0000","#00ff00"]},"legend":null}}},
{"data":{"values":[{}]},"mark":{"type":"text","font":"Liberation Serif","fontSize":21,"align":"left","baseline":"middle","color":"#000000"},"encoding":{
"x":{"datum":4.32,"type":"quantitative","scale":{"type":"log","domain":[4,8],"nice":false},"axis":{"orient":"top","values":[5,6,7],"labels":false,"tickSize":-9,"title":null}},
"y":{"datum":0.00185,"type":"quantitative","scale":{"type":"log","domain":[0.000885,0.138],"nice":false},"axis":{"orient":"left","values":[0.002,0.003,0.004,0.005,0.006,0.007,0.008,0.009,0.02,0.03,0.04,0.05,0.06,0.07,0.08,0.09],"labels":false,"tickSize":-5,"title":null}},
"text":{"value":"the bridge"}}},
{"data":{"values":[]},"mark":"point","encoding":{
"x":{"field":"e","type":"quantitative","scale":{"type":"log","domain":[4,8],"nice":false},"axis":null},
"y":{"field":"y","type":"quantitative","scale":{"type":"log","domain":[0.000885,0.138],"nice":false},"axis":{"orient":"right","values":[0.001,0.01,0.1],"labels":false,"tickSize":-9,"title":null}}}},
{"data":{"values":[]},"mark":"point","encoding":{
"x":{"field":"e","type":"quantitative","scale":{"type":"log","domain":[4,8],"nice":false},"axis":null},
"y":{"field":"y","type":"quantitative","scale":{"type":"log","domain":[0.000885,0.138],"nice":false},"axis":{"orient":"right","values":[0.002,0.003,0.004,0.005,0.006,0.007,0.008,0.009,0.02,0.03,0.04,0.05,0.06,0.07,0.08,0.09],"labels":false,"tickSize":-5,"title":null}}}}
]},
{"width":577,"height":141,"resolve":{"axis":{"x":"independent","y":"independent"}},"layer":[
{"mark":{"type":"errorbar","thickness":2,"ticks":false},"encoding":{
"x":{"field":"e","type":"quantitative","scale":{"type":"log","domain":[4,8],"nice":false},"axis":null},
"xError":{"field":"w"},
"y":{"field":"c","type":"quantitative","scale":{"domain":[-5,5],"nice":false},"axis":null},
"color":{"field":"s","type":"nominal","scale":{"domain":["k","r","g"],"range":["#000000","#ff0000","#00ff00"]},"legend":null}}},
{"transform":[{"joinaggregate":[{"op":"count","as":"u"}],"groupby":["s","e"]}],
"mark":{"type":"errorbar","thickness":2,"ticks":false},"encoding":{
"y":{"field":"c","type":"quantitative","scale":{"domain":[-5,5],"nice":false},"axis":null},
"yError":{"field":"u"},
"x":{"field":"e","type":"quantitative","scale":{"type":"log","domain":[4,8],"nice":false},"axis":null},
"color":{"field":"s","type":"nominal","scale":{"domain":["k","r","g"],"range":["#000000","#ff0000","#00ff00"]},"legend":null}}},
{"data":{"values":[{}]},"mark":{"type":"rule","color":"#00ff00","strokeWidth":2.5},"encoding":{
"y":{"datum":0,"type":"quantitative","scale":{"domain":[-5,5],"nice":false},"axis":{"orient":"left","values":[-4,-2,0,2,4],"tickSize":-9,"labelPadding":26,"title":"χ","titleFontSize":22,"titleX":-63,"titleY":70,"titleAngle":-90,"titleAlign":"center","titleBaseline":"middle"}}}},
{"data":{"values":[]},"mark":"point","encoding":{
"x":{"field":"e","type":"quantitative","scale":{"type":"log","domain":[4,8],"nice":false},"axis":{"orient":"bottom","values":[5,6,7],"tickSize":-9,"labelPadding":16,"labelExpr":"datum.value == 5 ? '5' : ''","title":"Energy (keV)","titleFontSize":22,"titleY":21,"titleBaseline":"top"}},
"y":{"field":"c","type":"quantitative","scale":{"domain":[-5,5],"nice":false},"axis":{"orient":"left","values":[-3,-1,1,3],"labels":false,"tickSize":-5,"title":null}}}},
{"data":{"values":[]},"mark":"point","encoding":{
"x":{"field":"e","type":"quantitative","scale":{"type":"log","domain":[4,8],"nice":false},"axis":{"orient":"top","values":[5,6,7],"labels":false,"tickSize":-9,"title":null}},
"y":{"field":"c","type":"quantitative","scale":{"domain":[-5,5],"nice":false},"axis":{"orient":"right","values":[-4,-2,0,2,4],"labels":false,"tickSize":-9,"title":null}}}},
{"data":{"values":[]},"mark":"point","encoding":{
"x":{"field":"e","type":"quantitative","scale":{"type":"log","domain":[4,8],"nice":false},"axis":null},
"y":{"field":"c","type":"quantitative","scale":{"domain":[-5,5],"nice":false},"axis":{"orient":"right","values":[-3,-1,1,3],"labels":false,"tickSize":-5,"title":null}}}}
]}
]}
],
"spacing":20
}
